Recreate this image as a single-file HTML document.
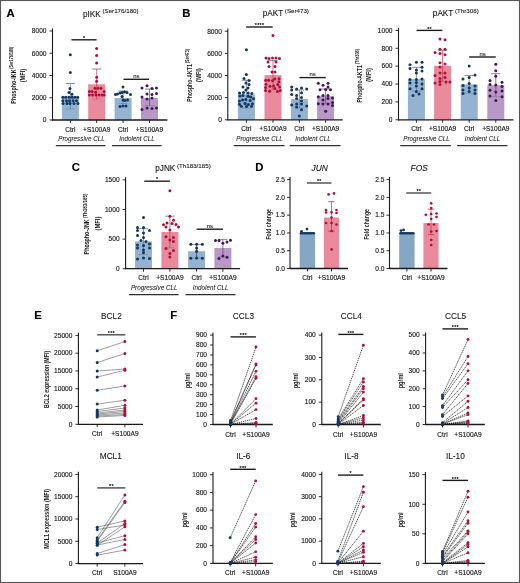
<!DOCTYPE html>
<html><head><meta charset="utf-8"><style>
html,body{margin:0;padding:0;background:#fff;}
svg{display:block;font-family:"Liberation Sans", sans-serif;will-change:transform;}
</style></head><body>
<svg width="520" height="583" viewBox="0 0 520 583">
<rect x="0" y="0" width="520" height="583" fill="#fff"/>
<text x="6.5" y="16.8" font-size="11.3" text-anchor="start" font-weight="bold" fill="#000" stroke="#000" stroke-width="0.14">A</text>
<text x="110.8" y="16.5" font-size="8.2" text-anchor="middle" fill="#1a1a1a" stroke="#1a1a1a" stroke-width="0.12">pIKK<tspan font-size="6.2" dy="-3.2" stroke-width="0.1"> (Ser176/180)</tspan></text>
<g transform="translate(15.6 75.25) rotate(-90)"><text x="-28.55" y="0" font-size="7" fill="#1a1a1a" font-weight="bold"><tspan textLength="34.4" lengthAdjust="spacingAndGlyphs">Phospho-IKK</tspan></text><text x="6.55" y="-2.6" font-size="5.6" fill="#1a1a1a" font-weight="bold" textLength="22" lengthAdjust="spacingAndGlyphs">(Ser176/180)</text></g>
<text x="25.2" y="75.5" font-size="7" text-anchor="middle" font-weight="bold" fill="#1a1a1a" textLength="13.5" lengthAdjust="spacingAndGlyphs" transform="rotate(-90 25.2 75.5)">(MFI)</text>
<line x1="52.5" y1="28.4" x2="52.5" y2="120.5" stroke="#1a1a1a" stroke-width="1.1"/>
<line x1="49.5" y1="120" x2="52.5" y2="120" stroke="#1a1a1a" stroke-width="0.9"/>
<text x="46.5" y="122.3" font-size="6.6" text-anchor="end" fill="#1a1a1a" stroke="#1a1a1a" stroke-width="0.14">0</text>
<line x1="49.5" y1="97.75" x2="52.5" y2="97.75" stroke="#1a1a1a" stroke-width="0.9"/>
<text x="46.5" y="100.05" font-size="6.6" text-anchor="end" fill="#1a1a1a" stroke="#1a1a1a" stroke-width="0.14">2000</text>
<line x1="49.5" y1="75.5" x2="52.5" y2="75.5" stroke="#1a1a1a" stroke-width="0.9"/>
<text x="46.5" y="77.8" font-size="6.6" text-anchor="end" fill="#1a1a1a" stroke="#1a1a1a" stroke-width="0.14">4000</text>
<line x1="49.5" y1="53.25" x2="52.5" y2="53.25" stroke="#1a1a1a" stroke-width="0.9"/>
<text x="46.5" y="55.55" font-size="6.6" text-anchor="end" fill="#1a1a1a" stroke="#1a1a1a" stroke-width="0.14">6000</text>
<line x1="49.5" y1="31" x2="52.5" y2="31" stroke="#1a1a1a" stroke-width="0.9"/>
<text x="46.5" y="33.3" font-size="6.6" text-anchor="end" fill="#1a1a1a" stroke="#1a1a1a" stroke-width="0.14">8000</text>
<rect x="61.9" y="96.3" width="17" height="23.7" fill="#93b3d0"/>
<line x1="70.4" y1="83.4" x2="70.4" y2="109" stroke="#4f7aa6" stroke-width="0.7"/>
<line x1="65.8" y1="83.4" x2="75" y2="83.4" stroke="#5c6470" stroke-width="0.75"/>
<line x1="65.8" y1="109" x2="75" y2="109" stroke="#5c6470" stroke-width="0.6" stroke-opacity="0.6"/>
<circle cx="70.3" cy="54.7" r="1.5" fill="#133760"/>
<circle cx="70.3" cy="72.5" r="1.5" fill="#133760"/>
<circle cx="70" cy="88.5" r="1.5" fill="#133760"/>
<circle cx="69" cy="92.5" r="1.5" fill="#133760"/>
<circle cx="72" cy="94.2" r="1.5" fill="#133760"/>
<circle cx="62.8" cy="97.3" r="1.5" fill="#133760"/>
<circle cx="65.7" cy="97.3" r="1.5" fill="#133760"/>
<circle cx="69" cy="97.3" r="1.5" fill="#133760"/>
<circle cx="72" cy="97.3" r="1.5" fill="#133760"/>
<circle cx="74.8" cy="97.3" r="1.5" fill="#133760"/>
<circle cx="77.7" cy="97.3" r="1.5" fill="#133760"/>
<circle cx="62.8" cy="100.7" r="1.5" fill="#133760"/>
<circle cx="66.5" cy="100.7" r="1.5" fill="#133760"/>
<circle cx="69.5" cy="100.7" r="1.5" fill="#133760"/>
<circle cx="73" cy="100.7" r="1.5" fill="#133760"/>
<circle cx="76.5" cy="100.7" r="1.5" fill="#133760"/>
<circle cx="63" cy="103.4" r="1.5" fill="#133760"/>
<circle cx="67" cy="103.4" r="1.5" fill="#133760"/>
<circle cx="70" cy="103.4" r="1.5" fill="#133760"/>
<circle cx="74" cy="103.4" r="1.5" fill="#133760"/>
<circle cx="78" cy="103.4" r="1.5" fill="#133760"/>
<rect x="88.2" y="84.3" width="17" height="35.7" fill="#e88a9b"/>
<line x1="96.7" y1="69" x2="96.7" y2="99" stroke="#c8304f" stroke-width="0.7"/>
<line x1="92.1" y1="69" x2="101.3" y2="69" stroke="#5c6470" stroke-width="0.75"/>
<line x1="92.1" y1="99" x2="101.3" y2="99" stroke="#5c6470" stroke-width="0.6" stroke-opacity="0.6"/>
<circle cx="96.6" cy="48.6" r="1.5" fill="#b0113a"/>
<circle cx="96.6" cy="55.5" r="1.5" fill="#b0113a"/>
<circle cx="96.6" cy="63" r="1.5" fill="#b0113a"/>
<circle cx="96.6" cy="77.2" r="1.5" fill="#b0113a"/>
<circle cx="96.6" cy="81.2" r="1.5" fill="#b0113a"/>
<circle cx="95" cy="88.2" r="1.5" fill="#b0113a"/>
<circle cx="98" cy="88.2" r="1.5" fill="#b0113a"/>
<circle cx="101" cy="88.2" r="1.5" fill="#b0113a"/>
<circle cx="89.3" cy="91.5" r="1.5" fill="#b0113a"/>
<circle cx="92.1" cy="91.5" r="1.5" fill="#b0113a"/>
<circle cx="95.5" cy="92.3" r="1.5" fill="#b0113a"/>
<circle cx="104.2" cy="91.5" r="1.5" fill="#b0113a"/>
<circle cx="89.3" cy="94.9" r="1.5" fill="#b0113a"/>
<circle cx="92.5" cy="94.9" r="1.5" fill="#b0113a"/>
<circle cx="96" cy="94.9" r="1.5" fill="#b0113a"/>
<circle cx="99" cy="94.9" r="1.5" fill="#b0113a"/>
<circle cx="102" cy="94.9" r="1.5" fill="#b0113a"/>
<circle cx="104.2" cy="94.9" r="1.5" fill="#b0113a"/>
<rect x="114.6" y="98" width="17" height="22" fill="#93b3d0"/>
<line x1="123.1" y1="91" x2="123.1" y2="103.5" stroke="#4f7aa6" stroke-width="0.7"/>
<line x1="118.5" y1="91" x2="127.7" y2="91" stroke="#5c6470" stroke-width="0.75"/>
<line x1="118.5" y1="103.5" x2="127.7" y2="103.5" stroke="#5c6470" stroke-width="0.6" stroke-opacity="0.6"/>
<circle cx="123" cy="87" r="1.5" fill="#133760"/>
<circle cx="115.5" cy="94.5" r="1.5" fill="#133760"/>
<circle cx="117.5" cy="94" r="1.5" fill="#133760"/>
<circle cx="120" cy="93" r="1.5" fill="#133760"/>
<circle cx="122" cy="92.5" r="1.5" fill="#133760"/>
<circle cx="124.5" cy="92" r="1.5" fill="#133760"/>
<circle cx="127" cy="92.5" r="1.5" fill="#133760"/>
<circle cx="130.5" cy="94.5" r="1.5" fill="#133760"/>
<circle cx="122" cy="96.5" r="1.5" fill="#133760"/>
<circle cx="123" cy="100" r="1.5" fill="#133760"/>
<circle cx="125" cy="100.5" r="1.5" fill="#133760"/>
<circle cx="127.5" cy="100" r="1.5" fill="#133760"/>
<circle cx="120" cy="106.5" r="1.5" fill="#133760"/>
<circle cx="123" cy="106" r="1.5" fill="#133760"/>
<circle cx="126" cy="106" r="1.5" fill="#133760"/>
<rect x="141" y="98" width="17" height="22" fill="#b898c6"/>
<line x1="149.5" y1="89" x2="149.5" y2="105.5" stroke="#6e3e84" stroke-width="0.7"/>
<line x1="144.9" y1="89" x2="154.1" y2="89" stroke="#5c6470" stroke-width="0.75"/>
<line x1="144.9" y1="105.5" x2="154.1" y2="105.5" stroke="#5c6470" stroke-width="0.6" stroke-opacity="0.6"/>
<circle cx="147" cy="85.8" r="1.5" fill="#451656"/>
<circle cx="142" cy="88" r="1.5" fill="#451656"/>
<circle cx="152" cy="88.5" r="1.5" fill="#451656"/>
<circle cx="156.5" cy="88" r="1.5" fill="#451656"/>
<circle cx="147" cy="94" r="1.5" fill="#451656"/>
<circle cx="152" cy="94.5" r="1.5" fill="#451656"/>
<circle cx="156.5" cy="93.5" r="1.5" fill="#451656"/>
<circle cx="142" cy="97" r="1.5" fill="#451656"/>
<circle cx="147" cy="99" r="1.5" fill="#451656"/>
<circle cx="152" cy="98" r="1.5" fill="#451656"/>
<circle cx="142" cy="109.5" r="1.5" fill="#451656"/>
<circle cx="147" cy="108" r="1.5" fill="#451656"/>
<circle cx="152" cy="108.5" r="1.5" fill="#451656"/>
<circle cx="156.5" cy="108" r="1.5" fill="#451656"/>
<line x1="52" y1="120" x2="167.4" y2="120" stroke="#1a1a1a" stroke-width="1.3"/>
<line x1="70.4" y1="120" x2="70.4" y2="123" stroke="#1a1a1a" stroke-width="0.9"/>
<line x1="96.7" y1="120" x2="96.7" y2="123" stroke="#1a1a1a" stroke-width="0.9"/>
<line x1="123.1" y1="120" x2="123.1" y2="123" stroke="#1a1a1a" stroke-width="0.9"/>
<line x1="149.5" y1="120" x2="149.5" y2="123" stroke="#1a1a1a" stroke-width="0.9"/>
<line x1="71.4" y1="39.8" x2="96.6" y2="39.8" stroke="#1e1e1e" stroke-width="1.4"/>
<text x="84.15" y="40" font-size="5.3" text-anchor="middle" fill="#1a1a1a" stroke="#1a1a1a" stroke-width="0.2" letter-spacing="0.3">*</text>
<line x1="123.5" y1="79.3" x2="149" y2="79.3" stroke="#1e1e1e" stroke-width="1.4"/>
<text x="136.25" y="77.9" font-size="5.9" text-anchor="middle" fill="#1a1a1a" stroke="#1a1a1a" stroke-width="0.1">ns</text>
<text x="70.4" y="131.7" font-size="6.6" text-anchor="middle" fill="#1a1a1a" stroke="#1a1a1a" stroke-width="0.14">Ctrl</text>
<text x="96.7" y="131.7" font-size="6.6" text-anchor="middle" fill="#1a1a1a" stroke="#1a1a1a" stroke-width="0.14">+S100A9</text>
<text x="123.1" y="131.7" font-size="6.6" text-anchor="middle" fill="#1a1a1a" stroke="#1a1a1a" stroke-width="0.14">Ctrl</text>
<text x="149.5" y="131.7" font-size="6.6" text-anchor="middle" fill="#1a1a1a" stroke="#1a1a1a" stroke-width="0.14">+S100A9</text>
<text x="81.5" y="141.2" font-size="6.3" text-anchor="middle" font-style="italic" fill="#1a1a1a" stroke="#1a1a1a" stroke-width="0.04">Progressive CLL</text>
<text x="137" y="141.2" font-size="6.3" text-anchor="middle" font-style="italic" fill="#1a1a1a" stroke="#1a1a1a" stroke-width="0.04">Indolent CLL</text>
<line x1="55.8" y1="145.6" x2="105.4" y2="145.6" stroke="#303030" stroke-width="1.2"/>
<line x1="112" y1="145.6" x2="161.6" y2="145.6" stroke="#303030" stroke-width="1.2"/>
<text x="182.3" y="16.7" font-size="11.3" text-anchor="start" font-weight="bold" fill="#000" stroke="#000" stroke-width="0.14">B</text>
<text x="285.8" y="16.4" font-size="8.2" text-anchor="middle" fill="#1a1a1a" stroke="#1a1a1a" stroke-width="0.12">pAKT<tspan font-size="6.2" dy="-3.2" stroke-width="0.1"> (Ser473)</tspan></text>
<g transform="translate(191.8 75.4) rotate(-90)"><text x="-26.4" y="0" font-size="7" fill="#1a1a1a" font-weight="bold"><tspan textLength="37.6" lengthAdjust="spacingAndGlyphs">Phospho-AKT1</tspan></text><text x="12.2" y="-2.6" font-size="5.6" fill="#1a1a1a" font-weight="bold" textLength="14.2" lengthAdjust="spacingAndGlyphs">(Ser473)</text></g>
<text x="201" y="75.1" font-size="7" text-anchor="middle" font-weight="bold" fill="#1a1a1a" textLength="13.8" lengthAdjust="spacingAndGlyphs" transform="rotate(-90 201 75.1)">(MFI)</text>
<line x1="227.8" y1="28.6" x2="227.8" y2="120.3" stroke="#1a1a1a" stroke-width="1.1"/>
<line x1="224.8" y1="119.8" x2="227.8" y2="119.8" stroke="#1a1a1a" stroke-width="0.9"/>
<text x="221.8" y="122.1" font-size="6.6" text-anchor="end" fill="#1a1a1a" stroke="#1a1a1a" stroke-width="0.14">0</text>
<line x1="224.8" y1="97.65" x2="227.8" y2="97.65" stroke="#1a1a1a" stroke-width="0.9"/>
<text x="221.8" y="99.95" font-size="6.6" text-anchor="end" fill="#1a1a1a" stroke="#1a1a1a" stroke-width="0.14">2000</text>
<line x1="224.8" y1="75.5" x2="227.8" y2="75.5" stroke="#1a1a1a" stroke-width="0.9"/>
<text x="221.8" y="77.8" font-size="6.6" text-anchor="end" fill="#1a1a1a" stroke="#1a1a1a" stroke-width="0.14">4000</text>
<line x1="224.8" y1="53.35" x2="227.8" y2="53.35" stroke="#1a1a1a" stroke-width="0.9"/>
<text x="221.8" y="55.65" font-size="6.6" text-anchor="end" fill="#1a1a1a" stroke="#1a1a1a" stroke-width="0.14">6000</text>
<line x1="224.8" y1="31.2" x2="227.8" y2="31.2" stroke="#1a1a1a" stroke-width="0.9"/>
<text x="221.8" y="33.5" font-size="6.6" text-anchor="end" fill="#1a1a1a" stroke="#1a1a1a" stroke-width="0.14">8000</text>
<rect x="237.9" y="94.3" width="17" height="25.5" fill="#93b3d0"/>
<line x1="246.4" y1="80.3" x2="246.4" y2="108" stroke="#4f7aa6" stroke-width="0.7"/>
<line x1="241.8" y1="80.3" x2="251" y2="80.3" stroke="#5c6470" stroke-width="0.75"/>
<line x1="241.8" y1="108" x2="251" y2="108" stroke="#5c6470" stroke-width="0.6" stroke-opacity="0.6"/>
<circle cx="246.4" cy="49.7" r="1.5" fill="#133760"/>
<circle cx="246.4" cy="74.5" r="1.5" fill="#133760"/>
<circle cx="244" cy="78.6" r="1.5" fill="#133760"/>
<circle cx="249" cy="80.5" r="1.5" fill="#133760"/>
<circle cx="246" cy="83" r="1.5" fill="#133760"/>
<circle cx="249" cy="84.5" r="1.5" fill="#133760"/>
<circle cx="243" cy="87" r="1.5" fill="#133760"/>
<circle cx="248" cy="88" r="1.5" fill="#133760"/>
<circle cx="246" cy="90" r="1.5" fill="#133760"/>
<circle cx="242.63" cy="99.89" r="1.5" fill="#133760"/>
<circle cx="248.21" cy="92.95" r="1.5" fill="#133760"/>
<circle cx="239.39" cy="104.14" r="1.5" fill="#133760"/>
<circle cx="242.93" cy="95.4" r="1.5" fill="#133760"/>
<circle cx="253.54" cy="98.82" r="1.5" fill="#133760"/>
<circle cx="248.34" cy="104.59" r="1.5" fill="#133760"/>
<circle cx="250.12" cy="100.57" r="1.5" fill="#133760"/>
<circle cx="243.54" cy="92.45" r="1.5" fill="#133760"/>
<circle cx="244.89" cy="103.61" r="1.5" fill="#133760"/>
<circle cx="251.86" cy="93.41" r="1.5" fill="#133760"/>
<circle cx="248.22" cy="96.36" r="1.5" fill="#133760"/>
<circle cx="251.53" cy="106.37" r="1.5" fill="#133760"/>
<circle cx="246.48" cy="106.48" r="1.5" fill="#133760"/>
<circle cx="245.83" cy="99.54" r="1.5" fill="#133760"/>
<circle cx="239.49" cy="100.93" r="1.5" fill="#133760"/>
<circle cx="239.52" cy="92.88" r="1.5" fill="#133760"/>
<circle cx="250.81" cy="97.01" r="1.5" fill="#133760"/>
<circle cx="252.47" cy="103.69" r="1.5" fill="#133760"/>
<circle cx="239.92" cy="95.94" r="1.5" fill="#133760"/>
<circle cx="241.27" cy="106.37" r="1.5" fill="#133760"/>
<rect x="264.5" y="75.1" width="17" height="44.7" fill="#e88a9b"/>
<line x1="273" y1="60.6" x2="273" y2="89.6" stroke="#c8304f" stroke-width="0.7"/>
<line x1="268.4" y1="60.6" x2="277.6" y2="60.6" stroke="#5c6470" stroke-width="0.75"/>
<line x1="268.4" y1="89.6" x2="277.6" y2="89.6" stroke="#5c6470" stroke-width="0.6" stroke-opacity="0.6"/>
<circle cx="273" cy="35.4" r="1.5" fill="#b0113a"/>
<circle cx="266" cy="58" r="1.5" fill="#b0113a"/>
<circle cx="269" cy="58.5" r="1.5" fill="#b0113a"/>
<circle cx="272.5" cy="58" r="1.5" fill="#b0113a"/>
<circle cx="276" cy="58" r="1.5" fill="#b0113a"/>
<circle cx="279.5" cy="58.5" r="1.5" fill="#b0113a"/>
<circle cx="268" cy="62" r="1.5" fill="#b0113a"/>
<circle cx="276" cy="62" r="1.5" fill="#b0113a"/>
<circle cx="269" cy="66.5" r="1.5" fill="#b0113a"/>
<circle cx="275" cy="66.5" r="1.5" fill="#b0113a"/>
<circle cx="272" cy="72" r="1.5" fill="#b0113a"/>
<circle cx="275" cy="72" r="1.5" fill="#b0113a"/>
<circle cx="274.84" cy="88.5" r="1.5" fill="#b0113a"/>
<circle cx="277.43" cy="91.61" r="1.5" fill="#b0113a"/>
<circle cx="265.94" cy="84.22" r="1.5" fill="#b0113a"/>
<circle cx="279.65" cy="87.06" r="1.5" fill="#b0113a"/>
<circle cx="279.01" cy="78.75" r="1.5" fill="#b0113a"/>
<circle cx="272.54" cy="80.82" r="1.5" fill="#b0113a"/>
<circle cx="273.66" cy="85.9" r="1.5" fill="#b0113a"/>
<circle cx="265.7" cy="80.36" r="1.5" fill="#b0113a"/>
<circle cx="269.69" cy="91.2" r="1.5" fill="#b0113a"/>
<circle cx="274.76" cy="78.96" r="1.5" fill="#b0113a"/>
<circle cx="265.53" cy="90.51" r="1.5" fill="#b0113a"/>
<circle cx="268.64" cy="80.34" r="1.5" fill="#b0113a"/>
<circle cx="280.24" cy="90.52" r="1.5" fill="#b0113a"/>
<circle cx="278.91" cy="81.63" r="1.5" fill="#b0113a"/>
<circle cx="270.02" cy="86.35" r="1.5" fill="#b0113a"/>
<circle cx="265.55" cy="87.51" r="1.5" fill="#b0113a"/>
<circle cx="277.78" cy="84.45" r="1.5" fill="#b0113a"/>
<rect x="290.9" y="99.1" width="17" height="20.7" fill="#93b3d0"/>
<line x1="299.4" y1="90" x2="299.4" y2="108" stroke="#4f7aa6" stroke-width="0.7"/>
<line x1="294.8" y1="90" x2="304" y2="90" stroke="#5c6470" stroke-width="0.75"/>
<line x1="294.8" y1="108" x2="304" y2="108" stroke="#5c6470" stroke-width="0.6" stroke-opacity="0.6"/>
<circle cx="291.7" cy="86.9" r="1.5" fill="#133760"/>
<circle cx="291.7" cy="90.1" r="1.5" fill="#133760"/>
<circle cx="296.6" cy="89" r="1.5" fill="#133760"/>
<circle cx="301.5" cy="88" r="1.5" fill="#133760"/>
<circle cx="306.7" cy="89" r="1.5" fill="#133760"/>
<circle cx="291.7" cy="94.6" r="1.5" fill="#133760"/>
<circle cx="296.6" cy="95.5" r="1.5" fill="#133760"/>
<circle cx="301.5" cy="92.8" r="1.5" fill="#133760"/>
<circle cx="296.6" cy="98.6" r="1.5" fill="#133760"/>
<circle cx="301.5" cy="97.5" r="1.5" fill="#133760"/>
<circle cx="301.5" cy="101" r="1.5" fill="#133760"/>
<circle cx="296.6" cy="104" r="1.5" fill="#133760"/>
<circle cx="301.5" cy="104" r="1.5" fill="#133760"/>
<circle cx="291.7" cy="105" r="1.5" fill="#133760"/>
<circle cx="306.7" cy="106" r="1.5" fill="#133760"/>
<circle cx="296.6" cy="107" r="1.5" fill="#133760"/>
<circle cx="301.5" cy="109.8" r="1.5" fill="#133760"/>
<circle cx="299.3" cy="116" r="1.5" fill="#133760"/>
<rect x="317.1" y="96.2" width="17" height="23.6" fill="#b898c6"/>
<line x1="325.6" y1="89" x2="325.6" y2="103.4" stroke="#6e3e84" stroke-width="0.7"/>
<line x1="321" y1="89" x2="330.2" y2="89" stroke="#5c6470" stroke-width="0.75"/>
<line x1="321" y1="103.4" x2="330.2" y2="103.4" stroke="#5c6470" stroke-width="0.6" stroke-opacity="0.6"/>
<circle cx="318.3" cy="83.3" r="1.5" fill="#451656"/>
<circle cx="323" cy="85.3" r="1.5" fill="#451656"/>
<circle cx="328" cy="83.3" r="1.5" fill="#451656"/>
<circle cx="328" cy="87" r="1.5" fill="#451656"/>
<circle cx="320" cy="89.8" r="1.5" fill="#451656"/>
<circle cx="325.7" cy="89.5" r="1.5" fill="#451656"/>
<circle cx="330.5" cy="89.8" r="1.5" fill="#451656"/>
<circle cx="318.3" cy="96.7" r="1.5" fill="#451656"/>
<circle cx="323" cy="95.5" r="1.5" fill="#451656"/>
<circle cx="328" cy="95.5" r="1.5" fill="#451656"/>
<circle cx="332.5" cy="98" r="1.5" fill="#451656"/>
<circle cx="323" cy="100" r="1.5" fill="#451656"/>
<circle cx="328" cy="98.6" r="1.5" fill="#451656"/>
<circle cx="318.3" cy="103.8" r="1.5" fill="#451656"/>
<circle cx="323" cy="104" r="1.5" fill="#451656"/>
<circle cx="328" cy="104" r="1.5" fill="#451656"/>
<circle cx="332.5" cy="102.5" r="1.5" fill="#451656"/>
<circle cx="332.5" cy="105.5" r="1.5" fill="#451656"/>
<circle cx="325.7" cy="111.3" r="1.5" fill="#451656"/>
<line x1="227.3" y1="119.8" x2="342.8" y2="119.8" stroke="#1a1a1a" stroke-width="1.3"/>
<line x1="246.4" y1="119.8" x2="246.4" y2="122.8" stroke="#1a1a1a" stroke-width="0.9"/>
<line x1="273" y1="119.8" x2="273" y2="122.8" stroke="#1a1a1a" stroke-width="0.9"/>
<line x1="299.4" y1="119.8" x2="299.4" y2="122.8" stroke="#1a1a1a" stroke-width="0.9"/>
<line x1="325.6" y1="119.8" x2="325.6" y2="122.8" stroke="#1a1a1a" stroke-width="0.9"/>
<line x1="246.2" y1="27" x2="272.7" y2="27" stroke="#1e1e1e" stroke-width="1.4"/>
<text x="259.6" y="27.2" font-size="5.3" text-anchor="middle" fill="#1a1a1a" stroke="#1a1a1a" stroke-width="0.2" letter-spacing="0.3">****</text>
<line x1="299.4" y1="77.6" x2="325.7" y2="77.6" stroke="#1e1e1e" stroke-width="1.4"/>
<text x="312.55" y="76.2" font-size="5.9" text-anchor="middle" fill="#1a1a1a" stroke="#1a1a1a" stroke-width="0.1">ns</text>
<text x="246.4" y="131.2" font-size="6.6" text-anchor="middle" fill="#1a1a1a" stroke="#1a1a1a" stroke-width="0.14">Ctrl</text>
<text x="273" y="131.2" font-size="6.6" text-anchor="middle" fill="#1a1a1a" stroke="#1a1a1a" stroke-width="0.14">+S100A9</text>
<text x="299.4" y="131.2" font-size="6.6" text-anchor="middle" fill="#1a1a1a" stroke="#1a1a1a" stroke-width="0.14">Ctrl</text>
<text x="325.6" y="131.2" font-size="6.6" text-anchor="middle" fill="#1a1a1a" stroke="#1a1a1a" stroke-width="0.14">+S100A9</text>
<text x="259.5" y="141.2" font-size="6.3" text-anchor="middle" font-style="italic" fill="#1a1a1a" stroke="#1a1a1a" stroke-width="0.04">Progressive CLL</text>
<text x="313" y="141.2" font-size="6.3" text-anchor="middle" font-style="italic" fill="#1a1a1a" stroke="#1a1a1a" stroke-width="0.04">Indolent CLL</text>
<line x1="233.8" y1="145.6" x2="284.6" y2="145.6" stroke="#303030" stroke-width="1.2"/>
<line x1="289.7" y1="145.6" x2="340.5" y2="145.6" stroke="#303030" stroke-width="1.2"/>
<text x="455.8" y="16.4" font-size="8.2" text-anchor="middle" fill="#1a1a1a" stroke="#1a1a1a" stroke-width="0.12">pAKT<tspan font-size="6.2" dy="-3.2" stroke-width="0.1"> (Thr308)</tspan></text>
<g transform="translate(361.8 75.7) rotate(-90)"><text x="-26.7" y="0" font-size="7" fill="#1a1a1a" font-weight="bold"><tspan textLength="37.2" lengthAdjust="spacingAndGlyphs">Phospho-AKT1</tspan></text><text x="11.5" y="-2.6" font-size="5.6" fill="#1a1a1a" font-weight="bold" textLength="15.2" lengthAdjust="spacingAndGlyphs">(Thr308)</text></g>
<text x="371" y="75" font-size="7" text-anchor="middle" font-weight="bold" fill="#1a1a1a" textLength="13.6" lengthAdjust="spacingAndGlyphs" transform="rotate(-90 371 75)">(MFI)</text>
<line x1="398.5" y1="27.8" x2="398.5" y2="120.3" stroke="#1a1a1a" stroke-width="1.1"/>
<line x1="395.5" y1="119.8" x2="398.5" y2="119.8" stroke="#1a1a1a" stroke-width="0.9"/>
<text x="392.5" y="122.1" font-size="6.6" text-anchor="end" fill="#1a1a1a" stroke="#1a1a1a" stroke-width="0.14">0</text>
<line x1="395.5" y1="101.92" x2="398.5" y2="101.92" stroke="#1a1a1a" stroke-width="0.9"/>
<text x="392.5" y="104.22" font-size="6.6" text-anchor="end" fill="#1a1a1a" stroke="#1a1a1a" stroke-width="0.14">200</text>
<line x1="395.5" y1="84.04" x2="398.5" y2="84.04" stroke="#1a1a1a" stroke-width="0.9"/>
<text x="392.5" y="86.34" font-size="6.6" text-anchor="end" fill="#1a1a1a" stroke="#1a1a1a" stroke-width="0.14">400</text>
<line x1="395.5" y1="66.16" x2="398.5" y2="66.16" stroke="#1a1a1a" stroke-width="0.9"/>
<text x="392.5" y="68.46" font-size="6.6" text-anchor="end" fill="#1a1a1a" stroke="#1a1a1a" stroke-width="0.14">600</text>
<line x1="395.5" y1="48.28" x2="398.5" y2="48.28" stroke="#1a1a1a" stroke-width="0.9"/>
<text x="392.5" y="50.58" font-size="6.6" text-anchor="end" fill="#1a1a1a" stroke="#1a1a1a" stroke-width="0.14">800</text>
<line x1="395.5" y1="30.4" x2="398.5" y2="30.4" stroke="#1a1a1a" stroke-width="0.9"/>
<text x="392.5" y="32.7" font-size="6.6" text-anchor="end" fill="#1a1a1a" stroke="#1a1a1a" stroke-width="0.14">1000</text>
<rect x="407.9" y="79.2" width="17" height="40.6" fill="#93b3d0"/>
<line x1="416.4" y1="67.3" x2="416.4" y2="91" stroke="#4f7aa6" stroke-width="0.7"/>
<line x1="411.8" y1="67.3" x2="421" y2="67.3" stroke="#5c6470" stroke-width="0.75"/>
<line x1="411.8" y1="91" x2="421" y2="91" stroke="#5c6470" stroke-width="0.6" stroke-opacity="0.6"/>
<circle cx="410" cy="64.7" r="1.5" fill="#133760"/>
<circle cx="416.4" cy="62.3" r="1.5" fill="#133760"/>
<circle cx="422" cy="62.3" r="1.5" fill="#133760"/>
<circle cx="410" cy="68.5" r="1.5" fill="#133760"/>
<circle cx="422" cy="67.3" r="1.5" fill="#133760"/>
<circle cx="416.4" cy="70" r="1.5" fill="#133760"/>
<circle cx="422" cy="71" r="1.5" fill="#133760"/>
<circle cx="416.4" cy="73" r="1.5" fill="#133760"/>
<circle cx="410" cy="79.5" r="1.5" fill="#133760"/>
<circle cx="416.4" cy="79.5" r="1.5" fill="#133760"/>
<circle cx="422" cy="79" r="1.5" fill="#133760"/>
<circle cx="410" cy="83" r="1.5" fill="#133760"/>
<circle cx="416.4" cy="82.5" r="1.5" fill="#133760"/>
<circle cx="422" cy="84" r="1.5" fill="#133760"/>
<circle cx="416.4" cy="86" r="1.5" fill="#133760"/>
<circle cx="410" cy="88.7" r="1.5" fill="#133760"/>
<circle cx="422" cy="88.7" r="1.5" fill="#133760"/>
<circle cx="416.4" cy="91.5" r="1.5" fill="#133760"/>
<circle cx="413" cy="95.5" r="1.5" fill="#133760"/>
<circle cx="419" cy="94" r="1.5" fill="#133760"/>
<rect x="434.1" y="65.8" width="17" height="54" fill="#e88a9b"/>
<line x1="442.6" y1="50.2" x2="442.6" y2="81.4" stroke="#c8304f" stroke-width="0.7"/>
<line x1="438" y1="50.2" x2="447.2" y2="50.2" stroke="#5c6470" stroke-width="0.75"/>
<line x1="438" y1="81.4" x2="447.2" y2="81.4" stroke="#5c6470" stroke-width="0.6" stroke-opacity="0.6"/>
<circle cx="440" cy="39.1" r="1.5" fill="#b0113a"/>
<circle cx="445" cy="39.8" r="1.5" fill="#b0113a"/>
<circle cx="440" cy="49.2" r="1.5" fill="#b0113a"/>
<circle cx="445" cy="49.2" r="1.5" fill="#b0113a"/>
<circle cx="435" cy="52.5" r="1.5" fill="#b0113a"/>
<circle cx="440" cy="53.6" r="1.5" fill="#b0113a"/>
<circle cx="445" cy="54.8" r="1.5" fill="#b0113a"/>
<circle cx="440" cy="62.8" r="1.5" fill="#b0113a"/>
<circle cx="445" cy="64" r="1.5" fill="#b0113a"/>
<circle cx="440" cy="67" r="1.5" fill="#b0113a"/>
<circle cx="435" cy="75.5" r="1.5" fill="#b0113a"/>
<circle cx="440" cy="73" r="1.5" fill="#b0113a"/>
<circle cx="445" cy="73" r="1.5" fill="#b0113a"/>
<circle cx="440" cy="78.5" r="1.5" fill="#b0113a"/>
<circle cx="445" cy="77.5" r="1.5" fill="#b0113a"/>
<circle cx="435" cy="83" r="1.5" fill="#b0113a"/>
<circle cx="440" cy="81.5" r="1.5" fill="#b0113a"/>
<circle cx="446" cy="82" r="1.5" fill="#b0113a"/>
<circle cx="450" cy="82" r="1.5" fill="#b0113a"/>
<circle cx="440" cy="84.5" r="1.5" fill="#b0113a"/>
<rect x="460.7" y="84.4" width="17" height="35.4" fill="#93b3d0"/>
<line x1="469.2" y1="75.6" x2="469.2" y2="93.2" stroke="#4f7aa6" stroke-width="0.7"/>
<line x1="464.6" y1="75.6" x2="473.8" y2="75.6" stroke="#5c6470" stroke-width="0.75"/>
<line x1="464.6" y1="93.2" x2="473.8" y2="93.2" stroke="#5c6470" stroke-width="0.6" stroke-opacity="0.6"/>
<circle cx="469.2" cy="66.1" r="1.5" fill="#133760"/>
<circle cx="475" cy="75.1" r="1.5" fill="#133760"/>
<circle cx="463" cy="79" r="1.5" fill="#133760"/>
<circle cx="469.2" cy="77.4" r="1.5" fill="#133760"/>
<circle cx="469.2" cy="83.6" r="1.5" fill="#133760"/>
<circle cx="463" cy="85.5" r="1.5" fill="#133760"/>
<circle cx="475" cy="86" r="1.5" fill="#133760"/>
<circle cx="469.2" cy="88" r="1.5" fill="#133760"/>
<circle cx="463" cy="90" r="1.5" fill="#133760"/>
<circle cx="475" cy="90" r="1.5" fill="#133760"/>
<circle cx="469.2" cy="91.5" r="1.5" fill="#133760"/>
<circle cx="463" cy="93.5" r="1.5" fill="#133760"/>
<circle cx="475" cy="93.5" r="1.5" fill="#133760"/>
<rect x="487.3" y="85.2" width="17" height="34.6" fill="#b898c6"/>
<line x1="495.8" y1="73.7" x2="495.8" y2="96.7" stroke="#6e3e84" stroke-width="0.7"/>
<line x1="491.2" y1="73.7" x2="500.4" y2="73.7" stroke="#5c6470" stroke-width="0.75"/>
<line x1="491.2" y1="96.7" x2="500.4" y2="96.7" stroke="#5c6470" stroke-width="0.6" stroke-opacity="0.6"/>
<circle cx="495.8" cy="64.2" r="1.5" fill="#451656"/>
<circle cx="495.8" cy="70.8" r="1.5" fill="#451656"/>
<circle cx="495.8" cy="76.2" r="1.5" fill="#451656"/>
<circle cx="490" cy="80.5" r="1.5" fill="#451656"/>
<circle cx="502" cy="82.3" r="1.5" fill="#451656"/>
<circle cx="490" cy="84.5" r="1.5" fill="#451656"/>
<circle cx="495.8" cy="85" r="1.5" fill="#451656"/>
<circle cx="502" cy="86.5" r="1.5" fill="#451656"/>
<circle cx="490" cy="90.2" r="1.5" fill="#451656"/>
<circle cx="502" cy="91" r="1.5" fill="#451656"/>
<circle cx="495.8" cy="92" r="1.5" fill="#451656"/>
<circle cx="490" cy="96" r="1.5" fill="#451656"/>
<circle cx="502" cy="96.8" r="1.5" fill="#451656"/>
<circle cx="495.8" cy="100.5" r="1.5" fill="#451656"/>
<line x1="398" y1="119.8" x2="513.5" y2="119.8" stroke="#1a1a1a" stroke-width="1.3"/>
<line x1="416.4" y1="119.8" x2="416.4" y2="122.8" stroke="#1a1a1a" stroke-width="0.9"/>
<line x1="442.6" y1="119.8" x2="442.6" y2="122.8" stroke="#1a1a1a" stroke-width="0.9"/>
<line x1="469.2" y1="119.8" x2="469.2" y2="122.8" stroke="#1a1a1a" stroke-width="0.9"/>
<line x1="495.8" y1="119.8" x2="495.8" y2="122.8" stroke="#1a1a1a" stroke-width="0.9"/>
<line x1="416.5" y1="30.4" x2="442.4" y2="30.4" stroke="#1e1e1e" stroke-width="1.4"/>
<text x="429.6" y="30.6" font-size="5.3" text-anchor="middle" fill="#1a1a1a" stroke="#1a1a1a" stroke-width="0.2" letter-spacing="0.3">**</text>
<line x1="469.2" y1="57" x2="495.8" y2="57" stroke="#1e1e1e" stroke-width="1.4"/>
<text x="482.5" y="55.6" font-size="5.9" text-anchor="middle" fill="#1a1a1a" stroke="#1a1a1a" stroke-width="0.1">ns</text>
<text x="416.4" y="131.2" font-size="6.6" text-anchor="middle" fill="#1a1a1a" stroke="#1a1a1a" stroke-width="0.14">Ctrl</text>
<text x="442.6" y="131.2" font-size="6.6" text-anchor="middle" fill="#1a1a1a" stroke="#1a1a1a" stroke-width="0.14">+S100A9</text>
<text x="469.2" y="131.2" font-size="6.6" text-anchor="middle" fill="#1a1a1a" stroke="#1a1a1a" stroke-width="0.14">Ctrl</text>
<text x="495.8" y="131.2" font-size="6.6" text-anchor="middle" fill="#1a1a1a" stroke="#1a1a1a" stroke-width="0.14">+S100A9</text>
<text x="426.6" y="141.2" font-size="6.3" text-anchor="middle" font-style="italic" fill="#1a1a1a" stroke="#1a1a1a" stroke-width="0.04">Progressive CLL</text>
<text x="482.5" y="141.2" font-size="6.3" text-anchor="middle" font-style="italic" fill="#1a1a1a" stroke="#1a1a1a" stroke-width="0.04">Indolent CLL</text>
<line x1="400.2" y1="145.6" x2="450.9" y2="145.6" stroke="#303030" stroke-width="1.2"/>
<line x1="457.1" y1="145.6" x2="507.5" y2="145.6" stroke="#303030" stroke-width="1.2"/>
<text x="71.7" y="171" font-size="11.3" text-anchor="start" font-weight="bold" fill="#000" stroke="#000" stroke-width="0.14">C</text>
<text x="183" y="171.2" font-size="8.2" text-anchor="middle" fill="#1a1a1a" stroke="#1a1a1a" stroke-width="0.12">pJNK<tspan font-size="6.2" dy="-3.2" stroke-width="0.1"> (Th183/185)</tspan></text>
<g transform="translate(89.3 224) rotate(-90)"><text x="-30.4" y="0" font-size="7" fill="#1a1a1a" font-weight="bold"><tspan textLength="35.1" lengthAdjust="spacingAndGlyphs">Phospho-JNK</tspan></text><text x="5.7" y="-2.6" font-size="5.6" fill="#1a1a1a" font-weight="bold" textLength="24.7" lengthAdjust="spacingAndGlyphs">(Th183/185)</text></g>
<text x="99.8" y="223.6" font-size="7" text-anchor="middle" font-weight="bold" fill="#1a1a1a" textLength="13.9" lengthAdjust="spacingAndGlyphs" transform="rotate(-90 99.8 223.6)">(MFI)</text>
<line x1="125.6" y1="177.3" x2="125.6" y2="269.2" stroke="#1a1a1a" stroke-width="1.1"/>
<line x1="122.6" y1="268.7" x2="125.6" y2="268.7" stroke="#1a1a1a" stroke-width="0.9"/>
<text x="119.6" y="271" font-size="6.6" text-anchor="end" fill="#1a1a1a" stroke="#1a1a1a" stroke-width="0.14">0</text>
<line x1="122.6" y1="239.1" x2="125.6" y2="239.1" stroke="#1a1a1a" stroke-width="0.9"/>
<text x="119.6" y="241.4" font-size="6.6" text-anchor="end" fill="#1a1a1a" stroke="#1a1a1a" stroke-width="0.14">500</text>
<line x1="122.6" y1="209.5" x2="125.6" y2="209.5" stroke="#1a1a1a" stroke-width="0.9"/>
<text x="119.6" y="211.8" font-size="6.6" text-anchor="end" fill="#1a1a1a" stroke="#1a1a1a" stroke-width="0.14">1000</text>
<line x1="122.6" y1="179.9" x2="125.6" y2="179.9" stroke="#1a1a1a" stroke-width="0.9"/>
<text x="119.6" y="182.2" font-size="6.6" text-anchor="end" fill="#1a1a1a" stroke="#1a1a1a" stroke-width="0.14">1500</text>
<rect x="135" y="241.4" width="17" height="27.3" fill="#93b3d0"/>
<line x1="143.5" y1="228.7" x2="143.5" y2="254.5" stroke="#4f7aa6" stroke-width="0.7"/>
<line x1="138.9" y1="228.7" x2="148.1" y2="228.7" stroke="#5c6470" stroke-width="0.75"/>
<line x1="138.9" y1="254.5" x2="148.1" y2="254.5" stroke="#5c6470" stroke-width="0.6" stroke-opacity="0.6"/>
<circle cx="143.5" cy="217.6" r="1.5" fill="#133760"/>
<circle cx="137.5" cy="227.4" r="1.5" fill="#133760"/>
<circle cx="143.5" cy="227.4" r="1.5" fill="#133760"/>
<circle cx="137.5" cy="230.5" r="1.5" fill="#133760"/>
<circle cx="143.5" cy="233" r="1.5" fill="#133760"/>
<circle cx="149.5" cy="230.5" r="1.5" fill="#133760"/>
<circle cx="137.5" cy="235.5" r="1.5" fill="#133760"/>
<circle cx="143.5" cy="237.5" r="1.5" fill="#133760"/>
<circle cx="141" cy="240.5" r="1.5" fill="#133760"/>
<circle cx="146" cy="241.5" r="1.5" fill="#133760"/>
<circle cx="137.5" cy="245" r="1.5" fill="#133760"/>
<circle cx="143.5" cy="245.5" r="1.5" fill="#133760"/>
<circle cx="149.5" cy="244" r="1.5" fill="#133760"/>
<circle cx="137.5" cy="248" r="1.5" fill="#133760"/>
<circle cx="143.5" cy="250" r="1.5" fill="#133760"/>
<circle cx="149.5" cy="248" r="1.5" fill="#133760"/>
<circle cx="143.5" cy="252.5" r="1.5" fill="#133760"/>
<circle cx="137.5" cy="259" r="1.5" fill="#133760"/>
<circle cx="143.5" cy="258" r="1.5" fill="#133760"/>
<circle cx="149.5" cy="258.5" r="1.5" fill="#133760"/>
<rect x="161.4" y="232" width="17" height="36.7" fill="#e88a9b"/>
<line x1="169.9" y1="216.2" x2="169.9" y2="247.8" stroke="#c8304f" stroke-width="0.7"/>
<line x1="165.3" y1="216.2" x2="174.5" y2="216.2" stroke="#5c6470" stroke-width="0.75"/>
<line x1="165.3" y1="247.8" x2="174.5" y2="247.8" stroke="#5c6470" stroke-width="0.6" stroke-opacity="0.6"/>
<circle cx="169.9" cy="190.8" r="1.5" fill="#b0113a"/>
<circle cx="169.9" cy="216.2" r="1.5" fill="#b0113a"/>
<circle cx="173.5" cy="220.2" r="1.5" fill="#b0113a"/>
<circle cx="163.5" cy="224.7" r="1.5" fill="#b0113a"/>
<circle cx="167" cy="223" r="1.5" fill="#b0113a"/>
<circle cx="172" cy="223.5" r="1.5" fill="#b0113a"/>
<circle cx="176" cy="224.5" r="1.5" fill="#b0113a"/>
<circle cx="178.5" cy="227" r="1.5" fill="#b0113a"/>
<circle cx="166" cy="227" r="1.5" fill="#b0113a"/>
<circle cx="169.9" cy="230" r="1.5" fill="#b0113a"/>
<circle cx="166" cy="236.8" r="1.5" fill="#b0113a"/>
<circle cx="173.5" cy="237.5" r="1.5" fill="#b0113a"/>
<circle cx="169.9" cy="240" r="1.5" fill="#b0113a"/>
<circle cx="173.5" cy="241.5" r="1.5" fill="#b0113a"/>
<circle cx="166" cy="248.5" r="1.5" fill="#b0113a"/>
<circle cx="173.5" cy="250.5" r="1.5" fill="#b0113a"/>
<circle cx="169.9" cy="253.5" r="1.5" fill="#b0113a"/>
<circle cx="169.9" cy="257" r="1.5" fill="#b0113a"/>
<rect x="188.1" y="251.2" width="17" height="17.5" fill="#93b3d0"/>
<line x1="196.6" y1="244.3" x2="196.6" y2="258.1" stroke="#133760" stroke-width="0.7"/>
<line x1="192" y1="244.3" x2="201.2" y2="244.3" stroke="#5c6470" stroke-width="0.75"/>
<line x1="192" y1="258.1" x2="201.2" y2="258.1" stroke="#5c6470" stroke-width="0.6" stroke-opacity="0.6"/>
<circle cx="190.8" cy="244.3" r="1.5" fill="#133760"/>
<circle cx="196.6" cy="244.3" r="1.5" fill="#133760"/>
<circle cx="202.4" cy="244.3" r="1.5" fill="#133760"/>
<circle cx="196.6" cy="248" r="1.5" fill="#133760"/>
<circle cx="196.6" cy="251.2" r="1.5" fill="#133760"/>
<circle cx="190.8" cy="258.2" r="1.5" fill="#133760"/>
<circle cx="196.6" cy="258" r="1.5" fill="#133760"/>
<circle cx="202.4" cy="258.2" r="1.5" fill="#133760"/>
<rect x="214.4" y="248" width="17" height="20.7" fill="#b898c6"/>
<line x1="222.9" y1="239.4" x2="222.9" y2="256.6" stroke="#6e3e84" stroke-width="0.7"/>
<line x1="218.3" y1="239.4" x2="227.5" y2="239.4" stroke="#5c6470" stroke-width="0.75"/>
<line x1="218.3" y1="256.6" x2="227.5" y2="256.6" stroke="#5c6470" stroke-width="0.6" stroke-opacity="0.6"/>
<circle cx="215.5" cy="240.6" r="1.5" fill="#451656"/>
<circle cx="219" cy="240.6" r="1.5" fill="#451656"/>
<circle cx="222.9" cy="243.3" r="1.5" fill="#451656"/>
<circle cx="227" cy="242" r="1.5" fill="#451656"/>
<circle cx="230.5" cy="240.3" r="1.5" fill="#451656"/>
<circle cx="219" cy="258.4" r="1.5" fill="#451656"/>
<circle cx="222.9" cy="256" r="1.5" fill="#451656"/>
<circle cx="227" cy="257.3" r="1.5" fill="#451656"/>
<line x1="125.1" y1="268.7" x2="240.1" y2="268.7" stroke="#1a1a1a" stroke-width="1.3"/>
<line x1="143.5" y1="268.7" x2="143.5" y2="271.7" stroke="#1a1a1a" stroke-width="0.9"/>
<line x1="169.9" y1="268.7" x2="169.9" y2="271.7" stroke="#1a1a1a" stroke-width="0.9"/>
<line x1="196.6" y1="268.7" x2="196.6" y2="271.7" stroke="#1a1a1a" stroke-width="0.9"/>
<line x1="222.9" y1="268.7" x2="222.9" y2="271.7" stroke="#1a1a1a" stroke-width="0.9"/>
<line x1="144.3" y1="181.2" x2="169.9" y2="181.2" stroke="#1e1e1e" stroke-width="1.4"/>
<text x="157.25" y="181.4" font-size="5.3" text-anchor="middle" fill="#1a1a1a" stroke="#1a1a1a" stroke-width="0.2" letter-spacing="0.3">*</text>
<line x1="196.6" y1="229.2" x2="222.9" y2="229.2" stroke="#1e1e1e" stroke-width="1.4"/>
<text x="209.75" y="227.8" font-size="5.9" text-anchor="middle" fill="#1a1a1a" stroke="#1a1a1a" stroke-width="0.1">ns</text>
<text x="143.5" y="280" font-size="6.6" text-anchor="middle" fill="#1a1a1a" stroke="#1a1a1a" stroke-width="0.14">Ctrl</text>
<text x="169.9" y="280" font-size="6.6" text-anchor="middle" fill="#1a1a1a" stroke="#1a1a1a" stroke-width="0.14">+S100A9</text>
<text x="196.6" y="280" font-size="6.6" text-anchor="middle" fill="#1a1a1a" stroke="#1a1a1a" stroke-width="0.14">Ctrl</text>
<text x="222.9" y="280" font-size="6.6" text-anchor="middle" fill="#1a1a1a" stroke="#1a1a1a" stroke-width="0.14">+S100A9</text>
<text x="154.2" y="290.2" font-size="6.3" text-anchor="middle" font-style="italic" fill="#1a1a1a" stroke="#1a1a1a" stroke-width="0.04">Progressive CLL</text>
<text x="210.6" y="290.2" font-size="6.3" text-anchor="middle" font-style="italic" fill="#1a1a1a" stroke="#1a1a1a" stroke-width="0.04">Indolent CLL</text>
<line x1="129" y1="294.6" x2="178.6" y2="294.6" stroke="#303030" stroke-width="1.2"/>
<line x1="185.5" y1="294.6" x2="235.6" y2="294.6" stroke="#303030" stroke-width="1.2"/>
<text x="255.2" y="170.8" font-size="11.3" text-anchor="start" font-weight="bold" fill="#000" stroke="#000" stroke-width="0.14">D</text>
<text x="319.65" y="171" font-size="8.4" text-anchor="middle" font-style="italic" fill="#1a1a1a" stroke="#1a1a1a" stroke-width="0.12">JUN</text>
<text x="271" y="224.3" font-size="7" text-anchor="middle" font-weight="bold" fill="#1a1a1a" textLength="30.6" lengthAdjust="spacingAndGlyphs" transform="rotate(-90 271 224.3)">Fold change</text>
<line x1="290" y1="177" x2="290" y2="269" stroke="#1a1a1a" stroke-width="1.1"/>
<line x1="287" y1="268.5" x2="290" y2="268.5" stroke="#1a1a1a" stroke-width="0.9"/>
<text x="285" y="270.8" font-size="6.6" text-anchor="end" fill="#1a1a1a" stroke="#1a1a1a" stroke-width="0.14">0.0</text>
<line x1="287" y1="250.72" x2="290" y2="250.72" stroke="#1a1a1a" stroke-width="0.9"/>
<text x="285" y="253.02" font-size="6.6" text-anchor="end" fill="#1a1a1a" stroke="#1a1a1a" stroke-width="0.14">0.5</text>
<line x1="287" y1="232.94" x2="290" y2="232.94" stroke="#1a1a1a" stroke-width="0.9"/>
<text x="285" y="235.24" font-size="6.6" text-anchor="end" fill="#1a1a1a" stroke="#1a1a1a" stroke-width="0.14">1.0</text>
<line x1="287" y1="215.16" x2="290" y2="215.16" stroke="#1a1a1a" stroke-width="0.9"/>
<text x="285" y="217.46" font-size="6.6" text-anchor="end" fill="#1a1a1a" stroke="#1a1a1a" stroke-width="0.14">1.5</text>
<line x1="287" y1="197.38" x2="290" y2="197.38" stroke="#1a1a1a" stroke-width="0.9"/>
<text x="285" y="199.68" font-size="6.6" text-anchor="end" fill="#1a1a1a" stroke="#1a1a1a" stroke-width="0.14">2.0</text>
<line x1="287" y1="179.6" x2="290" y2="179.6" stroke="#1a1a1a" stroke-width="0.9"/>
<text x="285" y="181.9" font-size="6.6" text-anchor="end" fill="#1a1a1a" stroke="#1a1a1a" stroke-width="0.14">2.5</text>
<rect x="299.7" y="232.94" width="15.4" height="35.56" fill="#85a7c4"/>
<rect x="323.9" y="217.5" width="15.2" height="51" fill="#e88a9b"/>
<circle cx="301.1" cy="233.24" r="1.35" fill="#133760"/>
<circle cx="302.68" cy="233.24" r="1.35" fill="#133760"/>
<circle cx="304.26" cy="233.24" r="1.35" fill="#133760"/>
<circle cx="305.84" cy="233.24" r="1.35" fill="#133760"/>
<circle cx="307.42" cy="233.24" r="1.35" fill="#133760"/>
<circle cx="309" cy="233.24" r="1.35" fill="#133760"/>
<circle cx="310.58" cy="233.24" r="1.35" fill="#133760"/>
<circle cx="312.16" cy="233.24" r="1.35" fill="#133760"/>
<circle cx="313.74" cy="233.24" r="1.35" fill="#133760"/>
<circle cx="301.5" cy="231.3" r="1.4" fill="#133760"/>
<circle cx="307" cy="229.1" r="1.4" fill="#133760"/>
<line x1="331.5" y1="201.7" x2="331.5" y2="231.2" stroke="#c8304f" stroke-width="0.7"/>
<line x1="328.3" y1="201.7" x2="334.7" y2="201.7" stroke="#c8304f" stroke-width="0.8"/>
<line x1="328.3" y1="231.2" x2="334.7" y2="231.2" stroke="#c8304f" stroke-width="0.8"/>
<circle cx="328.6" cy="194.4" r="1.35" fill="#b0113a"/>
<circle cx="334" cy="193.4" r="1.35" fill="#b0113a"/>
<circle cx="326" cy="210" r="1.35" fill="#b0113a"/>
<circle cx="326" cy="212.5" r="1.35" fill="#b0113a"/>
<circle cx="331.6" cy="212.3" r="1.35" fill="#b0113a"/>
<circle cx="336.5" cy="210" r="1.35" fill="#b0113a"/>
<circle cx="336.5" cy="213" r="1.35" fill="#b0113a"/>
<circle cx="331.6" cy="217.5" r="1.35" fill="#b0113a"/>
<circle cx="326" cy="223" r="1.35" fill="#b0113a"/>
<circle cx="331.6" cy="223" r="1.35" fill="#b0113a"/>
<circle cx="336.5" cy="224.5" r="1.35" fill="#b0113a"/>
<circle cx="331.6" cy="231" r="1.35" fill="#b0113a"/>
<circle cx="331.6" cy="249.4" r="1.35" fill="#b0113a"/>
<line x1="289.5" y1="268.5" x2="348" y2="268.5" stroke="#1a1a1a" stroke-width="1.3"/>
<line x1="307.4" y1="268.5" x2="307.4" y2="271.5" stroke="#1a1a1a" stroke-width="0.9"/>
<line x1="331.5" y1="268.5" x2="331.5" y2="271.5" stroke="#1a1a1a" stroke-width="0.9"/>
<line x1="306.9" y1="183" x2="331.5" y2="183" stroke="#4a4a4a" stroke-width="1.4"/>
<text x="319.35" y="183.2" font-size="5.3" text-anchor="middle" fill="#1a1a1a" stroke="#1a1a1a" stroke-width="0.2" letter-spacing="0.3">**</text>
<text x="307.4" y="280.3" font-size="6.6" text-anchor="middle" fill="#1a1a1a" stroke="#1a1a1a" stroke-width="0.14">Ctrl</text>
<text x="331.5" y="280.3" font-size="6.6" text-anchor="middle" fill="#1a1a1a" stroke="#1a1a1a" stroke-width="0.14">+S100A9</text>
<text x="419.15" y="171" font-size="8.4" text-anchor="middle" font-style="italic" fill="#1a1a1a" stroke="#1a1a1a" stroke-width="0.12">FOS</text>
<text x="369.3" y="224.3" font-size="7" text-anchor="middle" font-weight="bold" fill="#1a1a1a" textLength="30.6" lengthAdjust="spacingAndGlyphs" transform="rotate(-90 369.3 224.3)">Fold change</text>
<line x1="389.5" y1="177" x2="389.5" y2="269" stroke="#1a1a1a" stroke-width="1.1"/>
<line x1="386.5" y1="268.5" x2="389.5" y2="268.5" stroke="#1a1a1a" stroke-width="0.9"/>
<text x="384.5" y="270.8" font-size="6.6" text-anchor="end" fill="#1a1a1a" stroke="#1a1a1a" stroke-width="0.14">0.0</text>
<line x1="386.5" y1="250.72" x2="389.5" y2="250.72" stroke="#1a1a1a" stroke-width="0.9"/>
<text x="384.5" y="253.02" font-size="6.6" text-anchor="end" fill="#1a1a1a" stroke="#1a1a1a" stroke-width="0.14">0.5</text>
<line x1="386.5" y1="232.94" x2="389.5" y2="232.94" stroke="#1a1a1a" stroke-width="0.9"/>
<text x="384.5" y="235.24" font-size="6.6" text-anchor="end" fill="#1a1a1a" stroke="#1a1a1a" stroke-width="0.14">1.0</text>
<line x1="386.5" y1="215.16" x2="389.5" y2="215.16" stroke="#1a1a1a" stroke-width="0.9"/>
<text x="384.5" y="217.46" font-size="6.6" text-anchor="end" fill="#1a1a1a" stroke="#1a1a1a" stroke-width="0.14">1.5</text>
<line x1="386.5" y1="197.38" x2="389.5" y2="197.38" stroke="#1a1a1a" stroke-width="0.9"/>
<text x="384.5" y="199.68" font-size="6.6" text-anchor="end" fill="#1a1a1a" stroke="#1a1a1a" stroke-width="0.14">2.0</text>
<line x1="386.5" y1="179.6" x2="389.5" y2="179.6" stroke="#1a1a1a" stroke-width="0.9"/>
<text x="384.5" y="181.9" font-size="6.6" text-anchor="end" fill="#1a1a1a" stroke="#1a1a1a" stroke-width="0.14">2.5</text>
<rect x="399.2" y="232.94" width="15.4" height="35.56" fill="#85a7c4"/>
<rect x="423.4" y="223" width="15.2" height="45.5" fill="#e88a9b"/>
<circle cx="400.6" cy="233.24" r="1.35" fill="#133760"/>
<circle cx="402.18" cy="233.24" r="1.35" fill="#133760"/>
<circle cx="403.76" cy="233.24" r="1.35" fill="#133760"/>
<circle cx="405.34" cy="233.24" r="1.35" fill="#133760"/>
<circle cx="406.92" cy="233.24" r="1.35" fill="#133760"/>
<circle cx="408.5" cy="233.24" r="1.35" fill="#133760"/>
<circle cx="410.08" cy="233.24" r="1.35" fill="#133760"/>
<circle cx="411.66" cy="233.24" r="1.35" fill="#133760"/>
<circle cx="413.24" cy="233.24" r="1.35" fill="#133760"/>
<circle cx="401" cy="230.6" r="1.4" fill="#133760"/>
<circle cx="403.6" cy="229.9" r="1.4" fill="#133760"/>
<line x1="431" y1="209.2" x2="431" y2="234.6" stroke="#c8304f" stroke-width="0.7"/>
<line x1="427.8" y1="209.2" x2="434.2" y2="209.2" stroke="#c8304f" stroke-width="0.8"/>
<line x1="427.8" y1="234.6" x2="434.2" y2="234.6" stroke="#c8304f" stroke-width="0.8"/>
<circle cx="431.2" cy="203.3" r="1.35" fill="#b0113a"/>
<circle cx="431.2" cy="208" r="1.35" fill="#b0113a"/>
<circle cx="425.8" cy="214.8" r="1.35" fill="#b0113a"/>
<circle cx="431.2" cy="214" r="1.35" fill="#b0113a"/>
<circle cx="436.5" cy="213.5" r="1.35" fill="#b0113a"/>
<circle cx="436.5" cy="217" r="1.35" fill="#b0113a"/>
<circle cx="431.2" cy="219" r="1.35" fill="#b0113a"/>
<circle cx="428.5" cy="224.5" r="1.35" fill="#b0113a"/>
<circle cx="434" cy="224.5" r="1.35" fill="#b0113a"/>
<circle cx="431.2" cy="231.5" r="1.35" fill="#b0113a"/>
<circle cx="436.5" cy="231" r="1.35" fill="#b0113a"/>
<circle cx="431.2" cy="240" r="1.35" fill="#b0113a"/>
<circle cx="431.2" cy="245" r="1.35" fill="#b0113a"/>
<line x1="389" y1="268.5" x2="447.5" y2="268.5" stroke="#1a1a1a" stroke-width="1.3"/>
<line x1="406.9" y1="268.5" x2="406.9" y2="271.5" stroke="#1a1a1a" stroke-width="0.9"/>
<line x1="431" y1="268.5" x2="431" y2="271.5" stroke="#1a1a1a" stroke-width="0.9"/>
<line x1="406.2" y1="193" x2="431.2" y2="193" stroke="#4a4a4a" stroke-width="1.4"/>
<text x="418.85" y="193.2" font-size="5.3" text-anchor="middle" fill="#1a1a1a" stroke="#1a1a1a" stroke-width="0.2" letter-spacing="0.3">**</text>
<text x="406.9" y="280.3" font-size="6.6" text-anchor="middle" fill="#1a1a1a" stroke="#1a1a1a" stroke-width="0.14">Ctrl</text>
<text x="431" y="280.3" font-size="6.6" text-anchor="middle" fill="#1a1a1a" stroke="#1a1a1a" stroke-width="0.14">+S100A9</text>
<text x="34.3" y="318.8" font-size="11.3" text-anchor="start" font-weight="bold" fill="#000" stroke="#000" stroke-width="0.14">E</text>
<text x="111.4" y="319.3" font-size="8.3" text-anchor="middle" fill="#1a1a1a" stroke="#1a1a1a" stroke-width="0.1">BCL2</text>
<text x="48.9" y="379.4" font-size="7.3" text-anchor="middle" font-weight="bold" fill="#1a1a1a" textLength="57.2" lengthAdjust="spacingAndGlyphs" transform="rotate(-90 48.9 379.4)">BCL2 expression (MFI)</text>
<line x1="78.4" y1="332.8" x2="78.4" y2="424.8" stroke="#1a1a1a" stroke-width="1.1"/>
<line x1="75.4" y1="424.3" x2="78.4" y2="424.3" stroke="#1a1a1a" stroke-width="0.9"/>
<text x="72.4" y="426.6" font-size="6.6" text-anchor="end" fill="#1a1a1a" stroke="#1a1a1a" stroke-width="0.14">0</text>
<line x1="75.4" y1="406.52" x2="78.4" y2="406.52" stroke="#1a1a1a" stroke-width="0.9"/>
<text x="72.4" y="408.82" font-size="6.6" text-anchor="end" fill="#1a1a1a" stroke="#1a1a1a" stroke-width="0.14">5000</text>
<line x1="75.4" y1="388.74" x2="78.4" y2="388.74" stroke="#1a1a1a" stroke-width="0.9"/>
<text x="72.4" y="391.04" font-size="6.6" text-anchor="end" fill="#1a1a1a" stroke="#1a1a1a" stroke-width="0.14">10000</text>
<line x1="75.4" y1="370.96" x2="78.4" y2="370.96" stroke="#1a1a1a" stroke-width="0.9"/>
<text x="72.4" y="373.26" font-size="6.6" text-anchor="end" fill="#1a1a1a" stroke="#1a1a1a" stroke-width="0.14">15000</text>
<line x1="75.4" y1="353.18" x2="78.4" y2="353.18" stroke="#1a1a1a" stroke-width="0.9"/>
<text x="72.4" y="355.48" font-size="6.6" text-anchor="end" fill="#1a1a1a" stroke="#1a1a1a" stroke-width="0.14">20000</text>
<line x1="75.4" y1="335.4" x2="78.4" y2="335.4" stroke="#1a1a1a" stroke-width="0.9"/>
<text x="72.4" y="337.7" font-size="6.6" text-anchor="end" fill="#1a1a1a" stroke="#1a1a1a" stroke-width="0.14">25000</text>
<line x1="77.9" y1="424.3" x2="143" y2="424.3" stroke="#1a1a1a" stroke-width="1.3"/>
<line x1="97.2" y1="424.3" x2="97.2" y2="427.3" stroke="#1a1a1a" stroke-width="0.9"/>
<line x1="124.9" y1="424.3" x2="124.9" y2="427.3" stroke="#1a1a1a" stroke-width="0.9"/>
<line x1="97.2" y1="350.8" x2="124.9" y2="341.6" stroke="#6a6a6a" stroke-width="0.65"/>
<line x1="97.2" y1="362.5" x2="124.9" y2="353.5" stroke="#6a6a6a" stroke-width="0.65"/>
<line x1="97.2" y1="371" x2="124.9" y2="369" stroke="#6a6a6a" stroke-width="0.65"/>
<line x1="97.2" y1="377" x2="124.9" y2="370.2" stroke="#6a6a6a" stroke-width="0.65"/>
<line x1="97.2" y1="390.3" x2="124.9" y2="386" stroke="#6a6a6a" stroke-width="0.65"/>
<line x1="97.2" y1="404.1" x2="124.9" y2="400.2" stroke="#6a6a6a" stroke-width="0.65"/>
<line x1="97.2" y1="410" x2="124.9" y2="405.3" stroke="#6a6a6a" stroke-width="0.65"/>
<line x1="97.2" y1="411.5" x2="124.9" y2="408" stroke="#6a6a6a" stroke-width="0.65"/>
<line x1="97.2" y1="413" x2="124.9" y2="410" stroke="#6a6a6a" stroke-width="0.65"/>
<line x1="97.2" y1="414" x2="124.9" y2="411.5" stroke="#6a6a6a" stroke-width="0.65"/>
<line x1="97.2" y1="415" x2="124.9" y2="413" stroke="#6a6a6a" stroke-width="0.65"/>
<line x1="97.2" y1="416" x2="124.9" y2="414.5" stroke="#6a6a6a" stroke-width="0.65"/>
<line x1="97.2" y1="417" x2="124.9" y2="415.5" stroke="#6a6a6a" stroke-width="0.65"/>
<circle cx="97.2" cy="350.8" r="1.5" fill="#133760"/>
<circle cx="124.9" cy="341.6" r="1.5" fill="#b0113a"/>
<circle cx="97.2" cy="362.5" r="1.5" fill="#133760"/>
<circle cx="124.9" cy="353.5" r="1.5" fill="#b0113a"/>
<circle cx="97.2" cy="371" r="1.5" fill="#133760"/>
<circle cx="124.9" cy="369" r="1.5" fill="#b0113a"/>
<circle cx="97.2" cy="377" r="1.5" fill="#133760"/>
<circle cx="124.9" cy="370.2" r="1.5" fill="#b0113a"/>
<circle cx="97.2" cy="390.3" r="1.5" fill="#133760"/>
<circle cx="124.9" cy="386" r="1.5" fill="#b0113a"/>
<circle cx="97.2" cy="404.1" r="1.5" fill="#133760"/>
<circle cx="124.9" cy="400.2" r="1.5" fill="#b0113a"/>
<circle cx="97.2" cy="410" r="1.5" fill="#133760"/>
<circle cx="124.9" cy="405.3" r="1.5" fill="#b0113a"/>
<circle cx="97.2" cy="411.5" r="1.5" fill="#133760"/>
<circle cx="124.9" cy="408" r="1.5" fill="#b0113a"/>
<circle cx="97.2" cy="413" r="1.5" fill="#133760"/>
<circle cx="124.9" cy="410" r="1.5" fill="#b0113a"/>
<circle cx="97.2" cy="414" r="1.5" fill="#133760"/>
<circle cx="124.9" cy="411.5" r="1.5" fill="#b0113a"/>
<circle cx="97.2" cy="415" r="1.5" fill="#133760"/>
<circle cx="124.9" cy="413" r="1.5" fill="#b0113a"/>
<circle cx="97.2" cy="416" r="1.5" fill="#133760"/>
<circle cx="124.9" cy="414.5" r="1.5" fill="#b0113a"/>
<circle cx="97.2" cy="417" r="1.5" fill="#133760"/>
<circle cx="124.9" cy="415.5" r="1.5" fill="#b0113a"/>
<line x1="97.2" y1="334.8" x2="125.3" y2="334.8" stroke="#4a4a4a" stroke-width="1.4"/>
<text x="111.4" y="335" font-size="5.3" text-anchor="middle" fill="#1a1a1a" stroke="#1a1a1a" stroke-width="0.2" letter-spacing="0.3">***</text>
<text x="97.2" y="436" font-size="6.6" text-anchor="middle" fill="#1a1a1a" stroke="#1a1a1a" stroke-width="0.14">Ctrl</text>
<text x="124.9" y="436" font-size="6.6" text-anchor="middle" fill="#1a1a1a" stroke="#1a1a1a" stroke-width="0.14">+S100A9</text>
<text x="110.8" y="459.4" font-size="8.3" text-anchor="middle" fill="#1a1a1a" stroke="#1a1a1a" stroke-width="0.1">MCL1</text>
<text x="48.9" y="518.9" font-size="7.3" text-anchor="middle" font-weight="bold" fill="#1a1a1a" textLength="59.8" lengthAdjust="spacingAndGlyphs" transform="rotate(-90 48.9 518.9)">MCL1 expression (MFI)</text>
<line x1="78.4" y1="471.8" x2="78.4" y2="564.1" stroke="#1a1a1a" stroke-width="1.1"/>
<line x1="75.4" y1="563.6" x2="78.4" y2="563.6" stroke="#1a1a1a" stroke-width="0.9"/>
<text x="72.4" y="565.9" font-size="6.6" text-anchor="end" fill="#1a1a1a" stroke="#1a1a1a" stroke-width="0.14">0</text>
<line x1="75.4" y1="541.3" x2="78.4" y2="541.3" stroke="#1a1a1a" stroke-width="0.9"/>
<text x="72.4" y="543.6" font-size="6.6" text-anchor="end" fill="#1a1a1a" stroke="#1a1a1a" stroke-width="0.14">5000</text>
<line x1="75.4" y1="519" x2="78.4" y2="519" stroke="#1a1a1a" stroke-width="0.9"/>
<text x="72.4" y="521.3" font-size="6.6" text-anchor="end" fill="#1a1a1a" stroke="#1a1a1a" stroke-width="0.14">10000</text>
<line x1="75.4" y1="496.7" x2="78.4" y2="496.7" stroke="#1a1a1a" stroke-width="0.9"/>
<text x="72.4" y="499" font-size="6.6" text-anchor="end" fill="#1a1a1a" stroke="#1a1a1a" stroke-width="0.14">15000</text>
<line x1="75.4" y1="474.4" x2="78.4" y2="474.4" stroke="#1a1a1a" stroke-width="0.9"/>
<text x="72.4" y="476.7" font-size="6.6" text-anchor="end" fill="#1a1a1a" stroke="#1a1a1a" stroke-width="0.14">20000</text>
<line x1="77.9" y1="563.6" x2="143" y2="563.6" stroke="#1a1a1a" stroke-width="1.3"/>
<line x1="97.2" y1="563.6" x2="97.2" y2="566.6" stroke="#1a1a1a" stroke-width="0.9"/>
<line x1="124.9" y1="563.6" x2="124.9" y2="566.6" stroke="#1a1a1a" stroke-width="0.9"/>
<line x1="97.2" y1="527.2" x2="124.9" y2="520.9" stroke="#6a6a6a" stroke-width="0.65"/>
<line x1="97.2" y1="529.5" x2="124.9" y2="525" stroke="#6a6a6a" stroke-width="0.65"/>
<line x1="97.2" y1="537.7" x2="124.9" y2="494.9" stroke="#6a6a6a" stroke-width="0.65"/>
<line x1="97.2" y1="540" x2="124.9" y2="501.2" stroke="#6a6a6a" stroke-width="0.65"/>
<line x1="97.2" y1="541.2" x2="124.9" y2="502.5" stroke="#6a6a6a" stroke-width="0.65"/>
<line x1="97.2" y1="543.2" x2="124.9" y2="523.4" stroke="#6a6a6a" stroke-width="0.65"/>
<line x1="97.2" y1="545.3" x2="124.9" y2="526.8" stroke="#6a6a6a" stroke-width="0.65"/>
<line x1="97.2" y1="543" x2="124.9" y2="535.7" stroke="#6a6a6a" stroke-width="0.65"/>
<line x1="97.2" y1="545" x2="124.9" y2="539.5" stroke="#6a6a6a" stroke-width="0.65"/>
<line x1="97.2" y1="553.5" x2="124.9" y2="544.6" stroke="#6a6a6a" stroke-width="0.65"/>
<line x1="97.2" y1="555.1" x2="124.9" y2="550.1" stroke="#6a6a6a" stroke-width="0.65"/>
<circle cx="97.2" cy="527.2" r="1.5" fill="#133760"/>
<circle cx="124.9" cy="520.9" r="1.5" fill="#b0113a"/>
<circle cx="97.2" cy="529.5" r="1.5" fill="#133760"/>
<circle cx="124.9" cy="525" r="1.5" fill="#b0113a"/>
<circle cx="97.2" cy="537.7" r="1.5" fill="#133760"/>
<circle cx="124.9" cy="494.9" r="1.5" fill="#b0113a"/>
<circle cx="97.2" cy="540" r="1.5" fill="#133760"/>
<circle cx="124.9" cy="501.2" r="1.5" fill="#b0113a"/>
<circle cx="97.2" cy="541.2" r="1.5" fill="#133760"/>
<circle cx="124.9" cy="502.5" r="1.5" fill="#b0113a"/>
<circle cx="97.2" cy="543.2" r="1.5" fill="#133760"/>
<circle cx="124.9" cy="523.4" r="1.5" fill="#b0113a"/>
<circle cx="97.2" cy="545.3" r="1.5" fill="#133760"/>
<circle cx="124.9" cy="526.8" r="1.5" fill="#b0113a"/>
<circle cx="97.2" cy="543" r="1.5" fill="#133760"/>
<circle cx="124.9" cy="535.7" r="1.5" fill="#b0113a"/>
<circle cx="97.2" cy="545" r="1.5" fill="#133760"/>
<circle cx="124.9" cy="539.5" r="1.5" fill="#b0113a"/>
<circle cx="97.2" cy="553.5" r="1.5" fill="#133760"/>
<circle cx="124.9" cy="544.6" r="1.5" fill="#b0113a"/>
<circle cx="97.2" cy="555.1" r="1.5" fill="#133760"/>
<circle cx="124.9" cy="550.1" r="1.5" fill="#b0113a"/>
<line x1="97.2" y1="487.9" x2="125.3" y2="487.9" stroke="#4a4a4a" stroke-width="1.4"/>
<text x="111.4" y="488.1" font-size="5.3" text-anchor="middle" fill="#1a1a1a" stroke="#1a1a1a" stroke-width="0.2" letter-spacing="0.3">**</text>
<text x="97.2" y="575.3" font-size="6.6" text-anchor="middle" fill="#1a1a1a" stroke="#1a1a1a" stroke-width="0.14">Ctrl</text>
<text x="124.9" y="575.3" font-size="6.6" text-anchor="middle" fill="#1a1a1a" stroke="#1a1a1a" stroke-width="0.14">S100A9</text>
<text x="170.3" y="318.8" font-size="11.3" text-anchor="start" font-weight="bold" fill="#000" stroke="#000" stroke-width="0.14">F</text>
<text x="243.45" y="319.3" font-size="8.3" text-anchor="middle" fill="#1a1a1a" stroke="#1a1a1a" stroke-width="0.1">CCL3</text>
<text x="190.3" y="380.8" font-size="7" text-anchor="middle" font-weight="bold" fill="#1a1a1a" textLength="15.1" lengthAdjust="spacingAndGlyphs" transform="rotate(-90 190.3 380.8)">pg/ml</text>
<line x1="213" y1="332.5" x2="213" y2="425" stroke="#1a1a1a" stroke-width="1.1"/>
<line x1="210" y1="424.5" x2="213" y2="424.5" stroke="#1a1a1a" stroke-width="0.9"/>
<text x="207" y="426.8" font-size="6.6" text-anchor="end" fill="#1a1a1a" stroke="#1a1a1a" stroke-width="0.14">0</text>
<line x1="210" y1="414.57" x2="213" y2="414.57" stroke="#1a1a1a" stroke-width="0.9"/>
<text x="207" y="416.87" font-size="6.6" text-anchor="end" fill="#1a1a1a" stroke="#1a1a1a" stroke-width="0.14">100</text>
<line x1="210" y1="404.63" x2="213" y2="404.63" stroke="#1a1a1a" stroke-width="0.9"/>
<text x="207" y="406.93" font-size="6.6" text-anchor="end" fill="#1a1a1a" stroke="#1a1a1a" stroke-width="0.14">200</text>
<line x1="210" y1="394.7" x2="213" y2="394.7" stroke="#1a1a1a" stroke-width="0.9"/>
<text x="207" y="397" font-size="6.6" text-anchor="end" fill="#1a1a1a" stroke="#1a1a1a" stroke-width="0.14">300</text>
<line x1="210" y1="384.77" x2="213" y2="384.77" stroke="#1a1a1a" stroke-width="0.9"/>
<text x="207" y="387.07" font-size="6.6" text-anchor="end" fill="#1a1a1a" stroke="#1a1a1a" stroke-width="0.14">400</text>
<line x1="210" y1="374.83" x2="213" y2="374.83" stroke="#1a1a1a" stroke-width="0.9"/>
<text x="207" y="377.13" font-size="6.6" text-anchor="end" fill="#1a1a1a" stroke="#1a1a1a" stroke-width="0.14">500</text>
<line x1="210" y1="364.9" x2="213" y2="364.9" stroke="#1a1a1a" stroke-width="0.9"/>
<text x="207" y="367.2" font-size="6.6" text-anchor="end" fill="#1a1a1a" stroke="#1a1a1a" stroke-width="0.14">600</text>
<line x1="210" y1="354.97" x2="213" y2="354.97" stroke="#1a1a1a" stroke-width="0.9"/>
<text x="207" y="357.27" font-size="6.6" text-anchor="end" fill="#1a1a1a" stroke="#1a1a1a" stroke-width="0.14">700</text>
<line x1="210" y1="345.03" x2="213" y2="345.03" stroke="#1a1a1a" stroke-width="0.9"/>
<text x="207" y="347.33" font-size="6.6" text-anchor="end" fill="#1a1a1a" stroke="#1a1a1a" stroke-width="0.14">800</text>
<line x1="210" y1="335.1" x2="213" y2="335.1" stroke="#1a1a1a" stroke-width="0.9"/>
<text x="207" y="337.4" font-size="6.6" text-anchor="end" fill="#1a1a1a" stroke="#1a1a1a" stroke-width="0.14">900</text>
<line x1="212.5" y1="424.5" x2="272.8" y2="424.5" stroke="#1a1a1a" stroke-width="1.3"/>
<line x1="230.5" y1="424.5" x2="230.5" y2="427.5" stroke="#1a1a1a" stroke-width="0.9"/>
<line x1="256" y1="424.5" x2="256" y2="427.5" stroke="#1a1a1a" stroke-width="0.9"/>
<line x1="230.5" y1="420.53" x2="256" y2="347.02" stroke="#111" stroke-width="0.7" stroke-dasharray="1.4,0.7"/>
<line x1="230.5" y1="421.52" x2="256" y2="363.91" stroke="#111" stroke-width="0.7" stroke-dasharray="1.4,0.7"/>
<line x1="230.5" y1="422.51" x2="256" y2="364.9" stroke="#111" stroke-width="0.7" stroke-dasharray="1.4,0.7"/>
<line x1="230.5" y1="423.01" x2="256" y2="371.36" stroke="#111" stroke-width="0.7" stroke-dasharray="1.4,0.7"/>
<line x1="230.5" y1="423.51" x2="256" y2="376.82" stroke="#111" stroke-width="0.7" stroke-dasharray="1.4,0.7"/>
<line x1="230.5" y1="424" x2="256" y2="378.31" stroke="#111" stroke-width="0.7" stroke-dasharray="1.4,0.7"/>
<line x1="230.5" y1="424.2" x2="256" y2="398.67" stroke="#111" stroke-width="0.7" stroke-dasharray="1.4,0.7"/>
<line x1="230.5" y1="424.3" x2="256" y2="403.14" stroke="#111" stroke-width="0.7" stroke-dasharray="1.4,0.7"/>
<line x1="230.5" y1="424.4" x2="256" y2="409.6" stroke="#111" stroke-width="0.7" stroke-dasharray="1.4,0.7"/>
<line x1="230.5" y1="424.5" x2="256" y2="418.54" stroke="#111" stroke-width="0.7" stroke-dasharray="1.4,0.7"/>
<line x1="230.5" y1="424.5" x2="256" y2="422.51" stroke="#111" stroke-width="0.7" stroke-dasharray="1.4,0.7"/>
<line x1="230.5" y1="424.5" x2="256" y2="423.51" stroke="#111" stroke-width="0.7" stroke-dasharray="1.4,0.7"/>
<line x1="230.5" y1="424.5" x2="256" y2="424" stroke="#111" stroke-width="0.7" stroke-dasharray="1.4,0.7"/>
<circle cx="230.5" cy="420.53" r="1.45" fill="#133760"/>
<circle cx="230.5" cy="421.52" r="1.45" fill="#133760"/>
<circle cx="230.5" cy="422.51" r="1.45" fill="#133760"/>
<circle cx="230.5" cy="423.01" r="1.45" fill="#133760"/>
<circle cx="230.5" cy="423.51" r="1.45" fill="#133760"/>
<circle cx="230.5" cy="424" r="1.45" fill="#133760"/>
<circle cx="230.5" cy="424.2" r="1.45" fill="#133760"/>
<circle cx="230.5" cy="424.3" r="1.45" fill="#133760"/>
<circle cx="230.5" cy="424.4" r="1.45" fill="#133760"/>
<circle cx="230.5" cy="424.5" r="1.45" fill="#133760"/>
<circle cx="230.5" cy="424.5" r="1.45" fill="#133760"/>
<circle cx="230.5" cy="424.5" r="1.45" fill="#133760"/>
<circle cx="230.5" cy="424.5" r="1.45" fill="#133760"/>
<circle cx="256" cy="347.02" r="1.45" fill="#b0113a"/>
<circle cx="256" cy="363.91" r="1.45" fill="#b0113a"/>
<circle cx="256" cy="364.9" r="1.45" fill="#b0113a"/>
<circle cx="256" cy="371.36" r="1.45" fill="#b0113a"/>
<circle cx="256" cy="376.82" r="1.45" fill="#b0113a"/>
<circle cx="256" cy="378.31" r="1.45" fill="#b0113a"/>
<circle cx="256" cy="398.67" r="1.45" fill="#b0113a"/>
<circle cx="256" cy="403.14" r="1.45" fill="#b0113a"/>
<circle cx="256" cy="409.6" r="1.45" fill="#b0113a"/>
<circle cx="256" cy="418.54" r="1.45" fill="#b0113a"/>
<circle cx="256" cy="422.51" r="1.45" fill="#b0113a"/>
<circle cx="256" cy="423.51" r="1.45" fill="#b0113a"/>
<circle cx="256" cy="424" r="1.45" fill="#b0113a"/>
<line x1="230.5" y1="336.9" x2="256" y2="336.9" stroke="#1e1e1e" stroke-width="1.4"/>
<text x="243.4" y="337.1" font-size="5.3" text-anchor="middle" fill="#1a1a1a" stroke="#1a1a1a" stroke-width="0.2" letter-spacing="0.3">***</text>
<text x="230.5" y="436.5" font-size="6.6" text-anchor="middle" fill="#1a1a1a" stroke="#1a1a1a" stroke-width="0.14">Ctrl</text>
<text x="256" y="436.5" font-size="6.6" text-anchor="middle" fill="#1a1a1a" stroke="#1a1a1a" stroke-width="0.14">+S100A9</text>
<text x="351.35" y="319.3" font-size="8.3" text-anchor="middle" fill="#1a1a1a" stroke="#1a1a1a" stroke-width="0.1">CCL4</text>
<text x="298.2" y="380.8" font-size="7" text-anchor="middle" font-weight="bold" fill="#1a1a1a" textLength="15.1" lengthAdjust="spacingAndGlyphs" transform="rotate(-90 298.2 380.8)">pg/ml</text>
<line x1="321.8" y1="332.5" x2="321.8" y2="425" stroke="#1a1a1a" stroke-width="1.1"/>
<line x1="318.8" y1="424.5" x2="321.8" y2="424.5" stroke="#1a1a1a" stroke-width="0.9"/>
<text x="315.8" y="426.8" font-size="6.6" text-anchor="end" fill="#1a1a1a" stroke="#1a1a1a" stroke-width="0.14">0</text>
<line x1="318.8" y1="402.15" x2="321.8" y2="402.15" stroke="#1a1a1a" stroke-width="0.9"/>
<text x="315.8" y="404.45" font-size="6.6" text-anchor="end" fill="#1a1a1a" stroke="#1a1a1a" stroke-width="0.14">100</text>
<line x1="318.8" y1="379.8" x2="321.8" y2="379.8" stroke="#1a1a1a" stroke-width="0.9"/>
<text x="315.8" y="382.1" font-size="6.6" text-anchor="end" fill="#1a1a1a" stroke="#1a1a1a" stroke-width="0.14">200</text>
<line x1="318.8" y1="357.45" x2="321.8" y2="357.45" stroke="#1a1a1a" stroke-width="0.9"/>
<text x="315.8" y="359.75" font-size="6.6" text-anchor="end" fill="#1a1a1a" stroke="#1a1a1a" stroke-width="0.14">300</text>
<line x1="318.8" y1="335.1" x2="321.8" y2="335.1" stroke="#1a1a1a" stroke-width="0.9"/>
<text x="315.8" y="337.4" font-size="6.6" text-anchor="end" fill="#1a1a1a" stroke="#1a1a1a" stroke-width="0.14">400</text>
<line x1="321.3" y1="424.5" x2="380.8" y2="424.5" stroke="#1a1a1a" stroke-width="1.3"/>
<line x1="338.2" y1="424.5" x2="338.2" y2="427.5" stroke="#1a1a1a" stroke-width="0.9"/>
<line x1="363.4" y1="424.5" x2="363.4" y2="427.5" stroke="#1a1a1a" stroke-width="0.9"/>
<line x1="338.2" y1="416.68" x2="363.4" y2="345.16" stroke="#111" stroke-width="0.7" stroke-dasharray="1.4,0.7"/>
<line x1="338.2" y1="418.91" x2="363.4" y2="378.68" stroke="#111" stroke-width="0.7" stroke-dasharray="1.4,0.7"/>
<line x1="338.2" y1="420.03" x2="363.4" y2="382.04" stroke="#111" stroke-width="0.7" stroke-dasharray="1.4,0.7"/>
<line x1="338.2" y1="421.15" x2="363.4" y2="386.5" stroke="#111" stroke-width="0.7" stroke-dasharray="1.4,0.7"/>
<line x1="338.2" y1="422.26" x2="363.4" y2="388.74" stroke="#111" stroke-width="0.7" stroke-dasharray="1.4,0.7"/>
<line x1="338.2" y1="423.38" x2="363.4" y2="392.09" stroke="#111" stroke-width="0.7" stroke-dasharray="1.4,0.7"/>
<line x1="338.2" y1="423.83" x2="363.4" y2="398.8" stroke="#111" stroke-width="0.7" stroke-dasharray="1.4,0.7"/>
<line x1="338.2" y1="424.05" x2="363.4" y2="399.92" stroke="#111" stroke-width="0.7" stroke-dasharray="1.4,0.7"/>
<line x1="338.2" y1="424.28" x2="363.4" y2="405.5" stroke="#111" stroke-width="0.7" stroke-dasharray="1.4,0.7"/>
<line x1="338.2" y1="424.5" x2="363.4" y2="415.56" stroke="#111" stroke-width="0.7" stroke-dasharray="1.4,0.7"/>
<line x1="338.2" y1="424.5" x2="363.4" y2="417.8" stroke="#111" stroke-width="0.7" stroke-dasharray="1.4,0.7"/>
<line x1="338.2" y1="424.5" x2="363.4" y2="420.03" stroke="#111" stroke-width="0.7" stroke-dasharray="1.4,0.7"/>
<line x1="338.2" y1="424.5" x2="363.4" y2="422.26" stroke="#111" stroke-width="0.7" stroke-dasharray="1.4,0.7"/>
<line x1="338.2" y1="424.5" x2="363.4" y2="423.38" stroke="#111" stroke-width="0.7" stroke-dasharray="1.4,0.7"/>
<circle cx="338.2" cy="416.68" r="1.45" fill="#133760"/>
<circle cx="338.2" cy="418.91" r="1.45" fill="#133760"/>
<circle cx="338.2" cy="420.03" r="1.45" fill="#133760"/>
<circle cx="338.2" cy="421.15" r="1.45" fill="#133760"/>
<circle cx="338.2" cy="422.26" r="1.45" fill="#133760"/>
<circle cx="338.2" cy="423.38" r="1.45" fill="#133760"/>
<circle cx="338.2" cy="423.83" r="1.45" fill="#133760"/>
<circle cx="338.2" cy="424.05" r="1.45" fill="#133760"/>
<circle cx="338.2" cy="424.28" r="1.45" fill="#133760"/>
<circle cx="338.2" cy="424.5" r="1.45" fill="#133760"/>
<circle cx="338.2" cy="424.5" r="1.45" fill="#133760"/>
<circle cx="338.2" cy="424.5" r="1.45" fill="#133760"/>
<circle cx="338.2" cy="424.5" r="1.45" fill="#133760"/>
<circle cx="338.2" cy="424.5" r="1.45" fill="#133760"/>
<circle cx="363.4" cy="345.16" r="1.45" fill="#b0113a"/>
<circle cx="363.4" cy="378.68" r="1.45" fill="#b0113a"/>
<circle cx="363.4" cy="382.04" r="1.45" fill="#b0113a"/>
<circle cx="363.4" cy="386.5" r="1.45" fill="#b0113a"/>
<circle cx="363.4" cy="388.74" r="1.45" fill="#b0113a"/>
<circle cx="363.4" cy="392.09" r="1.45" fill="#b0113a"/>
<circle cx="363.4" cy="398.8" r="1.45" fill="#b0113a"/>
<circle cx="363.4" cy="399.92" r="1.45" fill="#b0113a"/>
<circle cx="363.4" cy="405.5" r="1.45" fill="#b0113a"/>
<circle cx="363.4" cy="415.56" r="1.45" fill="#b0113a"/>
<circle cx="363.4" cy="417.8" r="1.45" fill="#b0113a"/>
<circle cx="363.4" cy="420.03" r="1.45" fill="#b0113a"/>
<circle cx="363.4" cy="422.26" r="1.45" fill="#b0113a"/>
<circle cx="363.4" cy="423.38" r="1.45" fill="#b0113a"/>
<line x1="338.2" y1="334.4" x2="363.4" y2="334.4" stroke="#1e1e1e" stroke-width="1.4"/>
<text x="350.95" y="334.6" font-size="5.3" text-anchor="middle" fill="#1a1a1a" stroke="#1a1a1a" stroke-width="0.2" letter-spacing="0.3">***</text>
<text x="338.2" y="436.5" font-size="6.6" text-anchor="middle" fill="#1a1a1a" stroke="#1a1a1a" stroke-width="0.14">Ctrl</text>
<text x="363.4" y="436.5" font-size="6.6" text-anchor="middle" fill="#1a1a1a" stroke="#1a1a1a" stroke-width="0.14">+S100A9</text>
<text x="455.6" y="319.3" font-size="8.3" text-anchor="middle" fill="#1a1a1a" stroke="#1a1a1a" stroke-width="0.1">CCL5</text>
<text x="403" y="380.8" font-size="7" text-anchor="middle" font-weight="bold" fill="#1a1a1a" textLength="15.1" lengthAdjust="spacingAndGlyphs" transform="rotate(-90 403 380.8)">pg/ml</text>
<line x1="425.6" y1="332.5" x2="425.6" y2="425" stroke="#1a1a1a" stroke-width="1.1"/>
<line x1="422.6" y1="424.5" x2="425.6" y2="424.5" stroke="#1a1a1a" stroke-width="0.9"/>
<text x="419.6" y="426.8" font-size="6.6" text-anchor="end" fill="#1a1a1a" stroke="#1a1a1a" stroke-width="0.14">0</text>
<line x1="422.6" y1="406.62" x2="425.6" y2="406.62" stroke="#1a1a1a" stroke-width="0.9"/>
<text x="419.6" y="408.92" font-size="6.6" text-anchor="end" fill="#1a1a1a" stroke="#1a1a1a" stroke-width="0.14">100</text>
<line x1="422.6" y1="388.74" x2="425.6" y2="388.74" stroke="#1a1a1a" stroke-width="0.9"/>
<text x="419.6" y="391.04" font-size="6.6" text-anchor="end" fill="#1a1a1a" stroke="#1a1a1a" stroke-width="0.14">200</text>
<line x1="422.6" y1="370.86" x2="425.6" y2="370.86" stroke="#1a1a1a" stroke-width="0.9"/>
<text x="419.6" y="373.16" font-size="6.6" text-anchor="end" fill="#1a1a1a" stroke="#1a1a1a" stroke-width="0.14">300</text>
<line x1="422.6" y1="352.98" x2="425.6" y2="352.98" stroke="#1a1a1a" stroke-width="0.9"/>
<text x="419.6" y="355.28" font-size="6.6" text-anchor="end" fill="#1a1a1a" stroke="#1a1a1a" stroke-width="0.14">400</text>
<line x1="422.6" y1="335.1" x2="425.6" y2="335.1" stroke="#1a1a1a" stroke-width="0.9"/>
<text x="419.6" y="337.4" font-size="6.6" text-anchor="end" fill="#1a1a1a" stroke="#1a1a1a" stroke-width="0.14">500</text>
<line x1="425.1" y1="424.5" x2="484.9" y2="424.5" stroke="#1a1a1a" stroke-width="1.3"/>
<line x1="442.5" y1="424.5" x2="442.5" y2="427.5" stroke="#1a1a1a" stroke-width="0.9"/>
<line x1="468" y1="424.5" x2="468" y2="427.5" stroke="#1a1a1a" stroke-width="0.9"/>
<line x1="442.5" y1="395" x2="468" y2="339.57" stroke="#111" stroke-width="0.7" stroke-dasharray="1.4,0.7"/>
<line x1="442.5" y1="396.79" x2="468" y2="356.56" stroke="#111" stroke-width="0.7" stroke-dasharray="1.4,0.7"/>
<line x1="442.5" y1="398.57" x2="468" y2="363.71" stroke="#111" stroke-width="0.7" stroke-dasharray="1.4,0.7"/>
<line x1="442.5" y1="405.73" x2="468" y2="370.86" stroke="#111" stroke-width="0.7" stroke-dasharray="1.4,0.7"/>
<line x1="442.5" y1="407.51" x2="468" y2="379.8" stroke="#111" stroke-width="0.7" stroke-dasharray="1.4,0.7"/>
<line x1="442.5" y1="414.67" x2="468" y2="383.38" stroke="#111" stroke-width="0.7" stroke-dasharray="1.4,0.7"/>
<line x1="442.5" y1="416.45" x2="468" y2="395.89" stroke="#111" stroke-width="0.7" stroke-dasharray="1.4,0.7"/>
<line x1="442.5" y1="422.71" x2="468" y2="401.26" stroke="#111" stroke-width="0.7" stroke-dasharray="1.4,0.7"/>
<line x1="442.5" y1="423.61" x2="468" y2="407.51" stroke="#111" stroke-width="0.7" stroke-dasharray="1.4,0.7"/>
<line x1="442.5" y1="423.96" x2="468" y2="412.88" stroke="#111" stroke-width="0.7" stroke-dasharray="1.4,0.7"/>
<line x1="442.5" y1="424.14" x2="468" y2="414.67" stroke="#111" stroke-width="0.7" stroke-dasharray="1.4,0.7"/>
<line x1="442.5" y1="424.32" x2="468" y2="420.92" stroke="#111" stroke-width="0.7" stroke-dasharray="1.4,0.7"/>
<line x1="442.5" y1="424.5" x2="468" y2="421.82" stroke="#111" stroke-width="0.7" stroke-dasharray="1.4,0.7"/>
<line x1="442.5" y1="424.5" x2="468" y2="422.71" stroke="#111" stroke-width="0.7" stroke-dasharray="1.4,0.7"/>
<line x1="442.5" y1="424.5" x2="468" y2="423.61" stroke="#111" stroke-width="0.7" stroke-dasharray="1.4,0.7"/>
<circle cx="442.5" cy="395" r="1.45" fill="#133760"/>
<circle cx="442.5" cy="396.79" r="1.45" fill="#133760"/>
<circle cx="442.5" cy="398.57" r="1.45" fill="#133760"/>
<circle cx="442.5" cy="405.73" r="1.45" fill="#133760"/>
<circle cx="442.5" cy="407.51" r="1.45" fill="#133760"/>
<circle cx="442.5" cy="414.67" r="1.45" fill="#133760"/>
<circle cx="442.5" cy="416.45" r="1.45" fill="#133760"/>
<circle cx="442.5" cy="422.71" r="1.45" fill="#133760"/>
<circle cx="442.5" cy="423.61" r="1.45" fill="#133760"/>
<circle cx="442.5" cy="423.96" r="1.45" fill="#133760"/>
<circle cx="442.5" cy="424.14" r="1.45" fill="#133760"/>
<circle cx="442.5" cy="424.32" r="1.45" fill="#133760"/>
<circle cx="442.5" cy="424.5" r="1.45" fill="#133760"/>
<circle cx="442.5" cy="424.5" r="1.45" fill="#133760"/>
<circle cx="442.5" cy="424.5" r="1.45" fill="#133760"/>
<circle cx="468" cy="339.57" r="1.45" fill="#b0113a"/>
<circle cx="468" cy="356.56" r="1.45" fill="#b0113a"/>
<circle cx="468" cy="363.71" r="1.45" fill="#b0113a"/>
<circle cx="468" cy="370.86" r="1.45" fill="#b0113a"/>
<circle cx="468" cy="379.8" r="1.45" fill="#b0113a"/>
<circle cx="468" cy="383.38" r="1.45" fill="#b0113a"/>
<circle cx="468" cy="395.89" r="1.45" fill="#b0113a"/>
<circle cx="468" cy="401.26" r="1.45" fill="#b0113a"/>
<circle cx="468" cy="407.51" r="1.45" fill="#b0113a"/>
<circle cx="468" cy="412.88" r="1.45" fill="#b0113a"/>
<circle cx="468" cy="414.67" r="1.45" fill="#b0113a"/>
<circle cx="468" cy="420.92" r="1.45" fill="#b0113a"/>
<circle cx="468" cy="421.82" r="1.45" fill="#b0113a"/>
<circle cx="468" cy="422.71" r="1.45" fill="#b0113a"/>
<circle cx="468" cy="423.61" r="1.45" fill="#b0113a"/>
<line x1="442.5" y1="328.9" x2="468" y2="328.9" stroke="#1e1e1e" stroke-width="1.4"/>
<text x="455.4" y="329.1" font-size="5.3" text-anchor="middle" fill="#1a1a1a" stroke="#1a1a1a" stroke-width="0.2" letter-spacing="0.3">***</text>
<text x="442.5" y="436.5" font-size="6.6" text-anchor="middle" fill="#1a1a1a" stroke="#1a1a1a" stroke-width="0.14">Ctrl</text>
<text x="468" y="436.5" font-size="6.6" text-anchor="middle" fill="#1a1a1a" stroke="#1a1a1a" stroke-width="0.14">+S100A9</text>
<text x="243.35" y="459.4" font-size="8.3" text-anchor="middle" fill="#1a1a1a" stroke="#1a1a1a" stroke-width="0.1">IL-6</text>
<text x="187.4" y="520.05" font-size="7" text-anchor="middle" font-weight="bold" fill="#1a1a1a" textLength="15.1" lengthAdjust="spacingAndGlyphs" transform="rotate(-90 187.4 520.05)">pg/ml</text>
<line x1="213" y1="472.1" x2="213" y2="563.9" stroke="#1a1a1a" stroke-width="1.1"/>
<line x1="210" y1="563.4" x2="213" y2="563.4" stroke="#1a1a1a" stroke-width="0.9"/>
<text x="207" y="565.7" font-size="6.6" text-anchor="end" fill="#1a1a1a" stroke="#1a1a1a" stroke-width="0.14">0</text>
<line x1="210" y1="545.66" x2="213" y2="545.66" stroke="#1a1a1a" stroke-width="0.9"/>
<text x="207" y="547.96" font-size="6.6" text-anchor="end" fill="#1a1a1a" stroke="#1a1a1a" stroke-width="0.14">200</text>
<line x1="210" y1="527.92" x2="213" y2="527.92" stroke="#1a1a1a" stroke-width="0.9"/>
<text x="207" y="530.22" font-size="6.6" text-anchor="end" fill="#1a1a1a" stroke="#1a1a1a" stroke-width="0.14">400</text>
<line x1="210" y1="510.18" x2="213" y2="510.18" stroke="#1a1a1a" stroke-width="0.9"/>
<text x="207" y="512.48" font-size="6.6" text-anchor="end" fill="#1a1a1a" stroke="#1a1a1a" stroke-width="0.14">600</text>
<line x1="210" y1="492.44" x2="213" y2="492.44" stroke="#1a1a1a" stroke-width="0.9"/>
<text x="207" y="494.74" font-size="6.6" text-anchor="end" fill="#1a1a1a" stroke="#1a1a1a" stroke-width="0.14">800</text>
<line x1="210" y1="474.7" x2="213" y2="474.7" stroke="#1a1a1a" stroke-width="0.9"/>
<text x="207" y="477" font-size="6.6" text-anchor="end" fill="#1a1a1a" stroke="#1a1a1a" stroke-width="0.14">1000</text>
<line x1="212.5" y1="563.4" x2="272.8" y2="563.4" stroke="#1a1a1a" stroke-width="1.3"/>
<line x1="230.2" y1="563.4" x2="230.2" y2="566.4" stroke="#1a1a1a" stroke-width="0.9"/>
<line x1="255.7" y1="563.4" x2="255.7" y2="566.4" stroke="#1a1a1a" stroke-width="0.9"/>
<line x1="230.2" y1="537.68" x2="255.7" y2="480.91" stroke="#111" stroke-width="0.7" stroke-dasharray="1.4,0.7"/>
<line x1="230.2" y1="562.51" x2="255.7" y2="514.62" stroke="#111" stroke-width="0.7" stroke-dasharray="1.4,0.7"/>
<line x1="230.2" y1="562.96" x2="255.7" y2="523.49" stroke="#111" stroke-width="0.7" stroke-dasharray="1.4,0.7"/>
<line x1="230.2" y1="563.13" x2="255.7" y2="527.03" stroke="#111" stroke-width="0.7" stroke-dasharray="1.4,0.7"/>
<line x1="230.2" y1="563.22" x2="255.7" y2="536.79" stroke="#111" stroke-width="0.7" stroke-dasharray="1.4,0.7"/>
<line x1="230.2" y1="563.31" x2="255.7" y2="539.45" stroke="#111" stroke-width="0.7" stroke-dasharray="1.4,0.7"/>
<line x1="230.2" y1="563.4" x2="255.7" y2="543" stroke="#111" stroke-width="0.7" stroke-dasharray="1.4,0.7"/>
<line x1="230.2" y1="563.4" x2="255.7" y2="551.87" stroke="#111" stroke-width="0.7" stroke-dasharray="1.4,0.7"/>
<line x1="230.2" y1="563.4" x2="255.7" y2="557.19" stroke="#111" stroke-width="0.7" stroke-dasharray="1.4,0.7"/>
<line x1="230.2" y1="563.4" x2="255.7" y2="559.85" stroke="#111" stroke-width="0.7" stroke-dasharray="1.4,0.7"/>
<line x1="230.2" y1="563.4" x2="255.7" y2="561.63" stroke="#111" stroke-width="0.7" stroke-dasharray="1.4,0.7"/>
<circle cx="230.2" cy="537.68" r="1.45" fill="#133760"/>
<circle cx="230.2" cy="562.51" r="1.45" fill="#133760"/>
<circle cx="230.2" cy="562.96" r="1.45" fill="#133760"/>
<circle cx="230.2" cy="563.13" r="1.45" fill="#133760"/>
<circle cx="230.2" cy="563.22" r="1.45" fill="#133760"/>
<circle cx="230.2" cy="563.31" r="1.45" fill="#133760"/>
<circle cx="230.2" cy="563.4" r="1.45" fill="#133760"/>
<circle cx="230.2" cy="563.4" r="1.45" fill="#133760"/>
<circle cx="230.2" cy="563.4" r="1.45" fill="#133760"/>
<circle cx="230.2" cy="563.4" r="1.45" fill="#133760"/>
<circle cx="230.2" cy="563.4" r="1.45" fill="#133760"/>
<circle cx="255.7" cy="480.91" r="1.45" fill="#b0113a"/>
<circle cx="255.7" cy="514.62" r="1.45" fill="#b0113a"/>
<circle cx="255.7" cy="523.49" r="1.45" fill="#b0113a"/>
<circle cx="255.7" cy="527.03" r="1.45" fill="#b0113a"/>
<circle cx="255.7" cy="536.79" r="1.45" fill="#b0113a"/>
<circle cx="255.7" cy="539.45" r="1.45" fill="#b0113a"/>
<circle cx="255.7" cy="543" r="1.45" fill="#b0113a"/>
<circle cx="255.7" cy="551.87" r="1.45" fill="#b0113a"/>
<circle cx="255.7" cy="557.19" r="1.45" fill="#b0113a"/>
<circle cx="255.7" cy="559.85" r="1.45" fill="#b0113a"/>
<circle cx="255.7" cy="561.63" r="1.45" fill="#b0113a"/>
<line x1="230.2" y1="469.3" x2="255.7" y2="469.3" stroke="#1e1e1e" stroke-width="1.4"/>
<text x="243.1" y="469.5" font-size="5.3" text-anchor="middle" fill="#1a1a1a" stroke="#1a1a1a" stroke-width="0.2" letter-spacing="0.3">***</text>
<text x="230.2" y="575.4" font-size="6.6" text-anchor="middle" fill="#1a1a1a" stroke="#1a1a1a" stroke-width="0.14">Ctrl</text>
<text x="255.7" y="575.4" font-size="6.6" text-anchor="middle" fill="#1a1a1a" stroke="#1a1a1a" stroke-width="0.14">+S100A9</text>
<text x="351.5" y="459.4" font-size="8.3" text-anchor="middle" fill="#1a1a1a" stroke="#1a1a1a" stroke-width="0.1">IL-8</text>
<text x="295" y="519.9" font-size="7" text-anchor="middle" font-weight="bold" fill="#1a1a1a" textLength="15.1" lengthAdjust="spacingAndGlyphs" transform="rotate(-90 295 519.9)">pg/ml</text>
<line x1="321.8" y1="471.8" x2="321.8" y2="563.9" stroke="#1a1a1a" stroke-width="1.1"/>
<line x1="318.8" y1="563.4" x2="321.8" y2="563.4" stroke="#1a1a1a" stroke-width="0.9"/>
<text x="315.8" y="565.7" font-size="6.6" text-anchor="end" fill="#1a1a1a" stroke="#1a1a1a" stroke-width="0.14">0</text>
<line x1="318.8" y1="541.15" x2="321.8" y2="541.15" stroke="#1a1a1a" stroke-width="0.9"/>
<text x="315.8" y="543.45" font-size="6.6" text-anchor="end" fill="#1a1a1a" stroke="#1a1a1a" stroke-width="0.14">1000</text>
<line x1="318.8" y1="518.9" x2="321.8" y2="518.9" stroke="#1a1a1a" stroke-width="0.9"/>
<text x="315.8" y="521.2" font-size="6.6" text-anchor="end" fill="#1a1a1a" stroke="#1a1a1a" stroke-width="0.14">2000</text>
<line x1="318.8" y1="496.65" x2="321.8" y2="496.65" stroke="#1a1a1a" stroke-width="0.9"/>
<text x="315.8" y="498.95" font-size="6.6" text-anchor="end" fill="#1a1a1a" stroke="#1a1a1a" stroke-width="0.14">3000</text>
<line x1="318.8" y1="474.4" x2="321.8" y2="474.4" stroke="#1a1a1a" stroke-width="0.9"/>
<text x="315.8" y="476.7" font-size="6.6" text-anchor="end" fill="#1a1a1a" stroke="#1a1a1a" stroke-width="0.14">4000</text>
<line x1="321.3" y1="563.4" x2="380.8" y2="563.4" stroke="#1a1a1a" stroke-width="1.3"/>
<line x1="337.9" y1="563.4" x2="337.9" y2="566.4" stroke="#1a1a1a" stroke-width="0.9"/>
<line x1="363.4" y1="563.4" x2="363.4" y2="566.4" stroke="#1a1a1a" stroke-width="0.9"/>
<line x1="337.9" y1="551.16" x2="363.4" y2="486.64" stroke="#111" stroke-width="0.7" stroke-dasharray="1.4,0.7"/>
<line x1="337.9" y1="561.17" x2="363.4" y2="492.2" stroke="#111" stroke-width="0.7" stroke-dasharray="1.4,0.7"/>
<line x1="337.9" y1="562.29" x2="363.4" y2="506.66" stroke="#111" stroke-width="0.7" stroke-dasharray="1.4,0.7"/>
<line x1="337.9" y1="562.95" x2="363.4" y2="531.14" stroke="#111" stroke-width="0.7" stroke-dasharray="1.4,0.7"/>
<line x1="337.9" y1="563.18" x2="363.4" y2="543.38" stroke="#111" stroke-width="0.7" stroke-dasharray="1.4,0.7"/>
<line x1="337.9" y1="563.29" x2="363.4" y2="546.71" stroke="#111" stroke-width="0.7" stroke-dasharray="1.4,0.7"/>
<line x1="337.9" y1="563.4" x2="363.4" y2="550.05" stroke="#111" stroke-width="0.7" stroke-dasharray="1.4,0.7"/>
<line x1="337.9" y1="563.4" x2="363.4" y2="552.27" stroke="#111" stroke-width="0.7" stroke-dasharray="1.4,0.7"/>
<line x1="337.9" y1="563.4" x2="363.4" y2="556.73" stroke="#111" stroke-width="0.7" stroke-dasharray="1.4,0.7"/>
<line x1="337.9" y1="563.4" x2="363.4" y2="561.17" stroke="#111" stroke-width="0.7" stroke-dasharray="1.4,0.7"/>
<line x1="337.9" y1="563.4" x2="363.4" y2="562.29" stroke="#111" stroke-width="0.7" stroke-dasharray="1.4,0.7"/>
<circle cx="337.9" cy="551.16" r="1.45" fill="#133760"/>
<circle cx="337.9" cy="561.17" r="1.45" fill="#133760"/>
<circle cx="337.9" cy="562.29" r="1.45" fill="#133760"/>
<circle cx="337.9" cy="562.95" r="1.45" fill="#133760"/>
<circle cx="337.9" cy="563.18" r="1.45" fill="#133760"/>
<circle cx="337.9" cy="563.29" r="1.45" fill="#133760"/>
<circle cx="337.9" cy="563.4" r="1.45" fill="#133760"/>
<circle cx="337.9" cy="563.4" r="1.45" fill="#133760"/>
<circle cx="337.9" cy="563.4" r="1.45" fill="#133760"/>
<circle cx="337.9" cy="563.4" r="1.45" fill="#133760"/>
<circle cx="337.9" cy="563.4" r="1.45" fill="#133760"/>
<circle cx="363.4" cy="486.64" r="1.45" fill="#b0113a"/>
<circle cx="363.4" cy="492.2" r="1.45" fill="#b0113a"/>
<circle cx="363.4" cy="506.66" r="1.45" fill="#b0113a"/>
<circle cx="363.4" cy="531.14" r="1.45" fill="#b0113a"/>
<circle cx="363.4" cy="543.38" r="1.45" fill="#b0113a"/>
<circle cx="363.4" cy="546.71" r="1.45" fill="#b0113a"/>
<circle cx="363.4" cy="550.05" r="1.45" fill="#b0113a"/>
<circle cx="363.4" cy="552.27" r="1.45" fill="#b0113a"/>
<circle cx="363.4" cy="556.73" r="1.45" fill="#b0113a"/>
<circle cx="363.4" cy="561.17" r="1.45" fill="#b0113a"/>
<circle cx="363.4" cy="562.29" r="1.45" fill="#b0113a"/>
<line x1="337.9" y1="475.1" x2="363.4" y2="475.1" stroke="#1e1e1e" stroke-width="1.4"/>
<text x="350.8" y="475.3" font-size="5.3" text-anchor="middle" fill="#1a1a1a" stroke="#1a1a1a" stroke-width="0.2" letter-spacing="0.3">*</text>
<text x="337.9" y="575.4" font-size="6.6" text-anchor="middle" fill="#1a1a1a" stroke="#1a1a1a" stroke-width="0.14">Ctrl</text>
<text x="363.4" y="575.4" font-size="6.6" text-anchor="middle" fill="#1a1a1a" stroke="#1a1a1a" stroke-width="0.14">+S100A9</text>
<text x="455.4" y="459.4" font-size="8.3" text-anchor="middle" fill="#1a1a1a" stroke="#1a1a1a" stroke-width="0.1">IL-10</text>
<text x="403" y="520.05" font-size="7" text-anchor="middle" font-weight="bold" fill="#1a1a1a" textLength="15.1" lengthAdjust="spacingAndGlyphs" transform="rotate(-90 403 520.05)">pg/ml</text>
<line x1="425.4" y1="472.1" x2="425.4" y2="563.9" stroke="#1a1a1a" stroke-width="1.1"/>
<line x1="422.4" y1="563.4" x2="425.4" y2="563.4" stroke="#1a1a1a" stroke-width="0.9"/>
<text x="419.4" y="565.7" font-size="6.6" text-anchor="end" fill="#1a1a1a" stroke="#1a1a1a" stroke-width="0.14">0</text>
<line x1="422.4" y1="533.83" x2="425.4" y2="533.83" stroke="#1a1a1a" stroke-width="0.9"/>
<text x="419.4" y="536.13" font-size="6.6" text-anchor="end" fill="#1a1a1a" stroke="#1a1a1a" stroke-width="0.14">50</text>
<line x1="422.4" y1="504.27" x2="425.4" y2="504.27" stroke="#1a1a1a" stroke-width="0.9"/>
<text x="419.4" y="506.57" font-size="6.6" text-anchor="end" fill="#1a1a1a" stroke="#1a1a1a" stroke-width="0.14">100</text>
<line x1="422.4" y1="474.7" x2="425.4" y2="474.7" stroke="#1a1a1a" stroke-width="0.9"/>
<text x="419.4" y="477" font-size="6.6" text-anchor="end" fill="#1a1a1a" stroke="#1a1a1a" stroke-width="0.14">150</text>
<line x1="424.9" y1="563.4" x2="484.9" y2="563.4" stroke="#1a1a1a" stroke-width="1.3"/>
<line x1="442.5" y1="563.4" x2="442.5" y2="566.4" stroke="#1a1a1a" stroke-width="0.9"/>
<line x1="468" y1="563.4" x2="468" y2="566.4" stroke="#1a1a1a" stroke-width="0.9"/>
<line x1="442.5" y1="551.57" x2="468" y2="491.26" stroke="#111" stroke-width="0.7" stroke-dasharray="1.4,0.7"/>
<line x1="442.5" y1="552.76" x2="468" y2="497.17" stroke="#111" stroke-width="0.7" stroke-dasharray="1.4,0.7"/>
<line x1="442.5" y1="554.53" x2="468" y2="511.95" stroke="#111" stroke-width="0.7" stroke-dasharray="1.4,0.7"/>
<line x1="442.5" y1="556.3" x2="468" y2="520.82" stroke="#111" stroke-width="0.7" stroke-dasharray="1.4,0.7"/>
<line x1="442.5" y1="557.49" x2="468" y2="523.19" stroke="#111" stroke-width="0.7" stroke-dasharray="1.4,0.7"/>
<line x1="442.5" y1="558.67" x2="468" y2="530.88" stroke="#111" stroke-width="0.7" stroke-dasharray="1.4,0.7"/>
<line x1="442.5" y1="560.44" x2="468" y2="532.06" stroke="#111" stroke-width="0.7" stroke-dasharray="1.4,0.7"/>
<line x1="442.5" y1="561.63" x2="468" y2="533.83" stroke="#111" stroke-width="0.7" stroke-dasharray="1.4,0.7"/>
<line x1="442.5" y1="562.81" x2="468" y2="542.7" stroke="#111" stroke-width="0.7" stroke-dasharray="1.4,0.7"/>
<line x1="442.5" y1="563.4" x2="468" y2="544.48" stroke="#111" stroke-width="0.7" stroke-dasharray="1.4,0.7"/>
<line x1="442.5" y1="563.4" x2="468" y2="546.84" stroke="#111" stroke-width="0.7" stroke-dasharray="1.4,0.7"/>
<line x1="442.5" y1="563.4" x2="468" y2="552.76" stroke="#111" stroke-width="0.7" stroke-dasharray="1.4,0.7"/>
<line x1="442.5" y1="563.4" x2="468" y2="560.44" stroke="#111" stroke-width="0.7" stroke-dasharray="1.4,0.7"/>
<line x1="442.5" y1="563.4" x2="468" y2="561.63" stroke="#111" stroke-width="0.7" stroke-dasharray="1.4,0.7"/>
<line x1="442.5" y1="563.4" x2="468" y2="562.22" stroke="#111" stroke-width="0.7" stroke-dasharray="1.4,0.7"/>
<circle cx="442.5" cy="551.57" r="1.45" fill="#133760"/>
<circle cx="442.5" cy="552.76" r="1.45" fill="#133760"/>
<circle cx="442.5" cy="554.53" r="1.45" fill="#133760"/>
<circle cx="442.5" cy="556.3" r="1.45" fill="#133760"/>
<circle cx="442.5" cy="557.49" r="1.45" fill="#133760"/>
<circle cx="442.5" cy="558.67" r="1.45" fill="#133760"/>
<circle cx="442.5" cy="560.44" r="1.45" fill="#133760"/>
<circle cx="442.5" cy="561.63" r="1.45" fill="#133760"/>
<circle cx="442.5" cy="562.81" r="1.45" fill="#133760"/>
<circle cx="442.5" cy="563.4" r="1.45" fill="#133760"/>
<circle cx="442.5" cy="563.4" r="1.45" fill="#133760"/>
<circle cx="442.5" cy="563.4" r="1.45" fill="#133760"/>
<circle cx="442.5" cy="563.4" r="1.45" fill="#133760"/>
<circle cx="442.5" cy="563.4" r="1.45" fill="#133760"/>
<circle cx="442.5" cy="563.4" r="1.45" fill="#133760"/>
<circle cx="468" cy="491.26" r="1.45" fill="#b0113a"/>
<circle cx="468" cy="497.17" r="1.45" fill="#b0113a"/>
<circle cx="468" cy="511.95" r="1.45" fill="#b0113a"/>
<circle cx="468" cy="520.82" r="1.45" fill="#b0113a"/>
<circle cx="468" cy="523.19" r="1.45" fill="#b0113a"/>
<circle cx="468" cy="530.88" r="1.45" fill="#b0113a"/>
<circle cx="468" cy="532.06" r="1.45" fill="#b0113a"/>
<circle cx="468" cy="533.83" r="1.45" fill="#b0113a"/>
<circle cx="468" cy="542.7" r="1.45" fill="#b0113a"/>
<circle cx="468" cy="544.48" r="1.45" fill="#b0113a"/>
<circle cx="468" cy="546.84" r="1.45" fill="#b0113a"/>
<circle cx="468" cy="552.76" r="1.45" fill="#b0113a"/>
<circle cx="468" cy="560.44" r="1.45" fill="#b0113a"/>
<circle cx="468" cy="561.63" r="1.45" fill="#b0113a"/>
<circle cx="468" cy="562.22" r="1.45" fill="#b0113a"/>
<line x1="442.5" y1="480.4" x2="468" y2="480.4" stroke="#1e1e1e" stroke-width="1.4"/>
<text x="455.4" y="480.6" font-size="5.3" text-anchor="middle" fill="#1a1a1a" stroke="#1a1a1a" stroke-width="0.2" letter-spacing="0.3">***</text>
<text x="442.5" y="575.4" font-size="6.6" text-anchor="middle" fill="#1a1a1a" stroke="#1a1a1a" stroke-width="0.14">Ctrl</text>
<text x="468" y="575.4" font-size="6.6" text-anchor="middle" fill="#1a1a1a" stroke="#1a1a1a" stroke-width="0.14">+S100A9</text>
<rect x="0.5" y="0.5" width="519" height="582" fill="none" stroke="#555" stroke-width="1.1"/>
</svg>
</body></html>
